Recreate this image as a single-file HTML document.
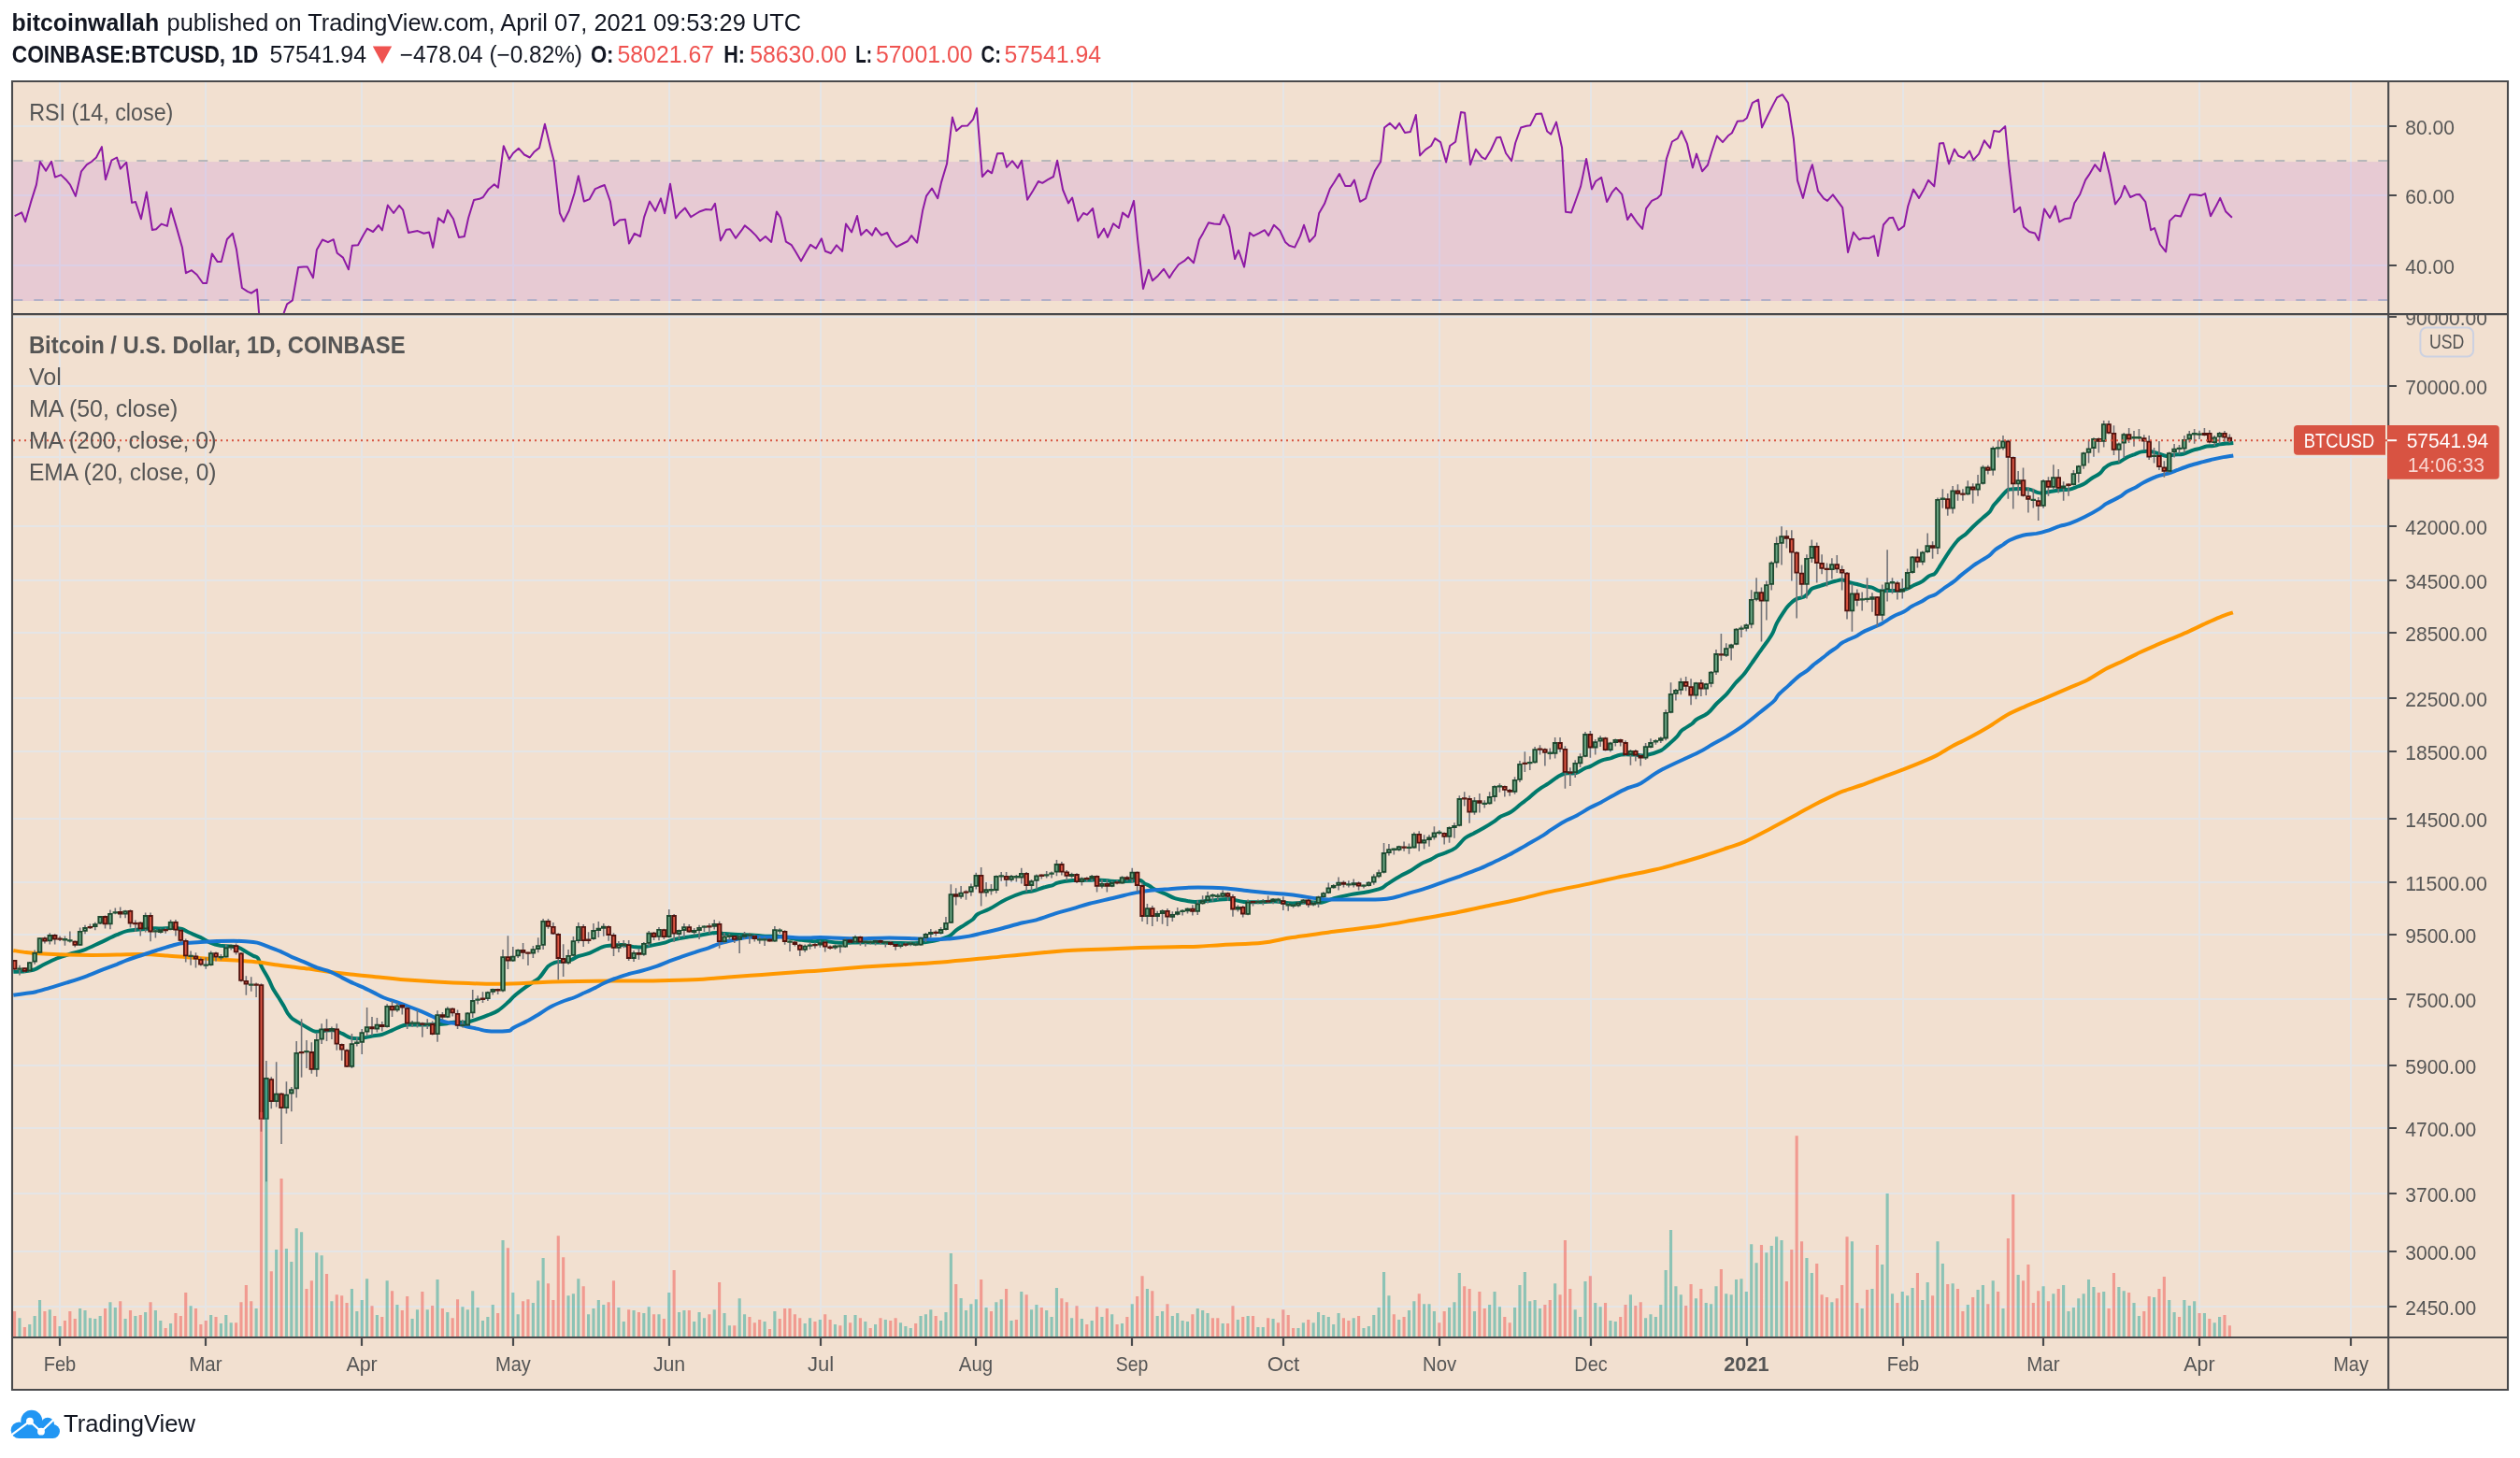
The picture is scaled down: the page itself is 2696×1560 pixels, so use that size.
<!DOCTYPE html>
<html><head><meta charset="utf-8"><title>BTCUSD chart</title>
<style>html,body{margin:0;padding:0;background:#fff;}body{width:2696px;height:1560px;overflow:hidden;font-family:"Liberation Sans",sans-serif;}</style>
</head><body>
<svg width="2696" height="1560" viewBox="0 0 2696 1560" style="display:block;will-change:transform">
<rect width="2696" height="1560" fill="#fff"/>
<rect x="13" y="87" width="2670" height="1400" fill="#f2e0d0"/>
<defs><clipPath id="cr"><rect x="14" y="88" width="2540.2" height="247.1"/></clipPath><clipPath id="cm"><rect x="14" y="337.1" width="2540.2" height="1092.9"/></clipPath><clipPath id="ca"><rect x="2556" y="337.1" width="126" height="1093"/></clipPath></defs>
<path d="M64.0 88V1430 M220.0 88V1430 M387.0 88V1430 M549.0 88V1430 M716.0 88V1430 M878.0 88V1430 M1044.0 88V1430 M1211.0 88V1430 M1373.0 88V1430 M1540.0 88V1430 M1702.0 88V1430 M1869.0 88V1430 M2036.0 88V1430 M2186.0 88V1430 M2353.0 88V1430 M2515.0 88V1430 M14 135H2554 M14 209H2554 M14 284H2554 M14 339.0H2554 M14 413.0H2554 M14 563.0H2554 M14 621.0H2554 M14 677.0H2554 M14 747.0H2554 M14 804.0H2554 M14 876.0H2554 M14 944.0H2554 M14 1000.0H2554 M14 1069.0H2554 M14 1140.0H2554 M14 1207.0H2554 M14 1277.0H2554 M14 1339.0H2554 M14 1398.0H2554 M14 489.0H2554" stroke="#e5e5e6" stroke-width="2" fill="none"/>
<g clip-path="url(#cr)">
<path d="M14.3 172.1H2554" stroke="#b7b7b9" stroke-width="2" stroke-dasharray="10 12" fill="none"/>
<rect x="14" y="173.1" width="2540" height="148.9" fill="rgba(170,80,225,0.15)"/>
<path d="M14.3 321H2554" stroke="#b2b0c8" stroke-width="2" stroke-dasharray="10 12" fill="none"/>
<path d="M15.7 231.2 L23.2 227.4 L27.1 237.2 L33.0 216.4 L38.9 197.6 L42.9 173.1 L49.1 182.8 L55.0 172.8 L58.9 189.6 L65.2 187.1 L70.5 192.2 L75.0 197.6 L80.9 209.9 L87.0 183.3 L92.9 176.2 L97.9 173.0 L103.0 168.5 L108.9 157.1 L112.9 192.1 L119.3 171.7 L125.0 168.5 L128.9 180.6 L135.2 173.7 L141.1 216.9 L145.0 216.0 L150.9 234.2 L156.8 205.6 L162.9 246.0 L167.0 245.3 L172.7 239.6 L178.9 241.9 L182.9 223.1 L189.3 244.9 L195.0 265.1 L198.9 292.2 L205.0 289.2 L210.7 294.0 L217.0 303.0 L221.1 303.1 L226.8 271.4 L232.7 280.1 L236.8 279.9 L242.9 256.0 L248.9 249.8 L252.9 266.4 L258.9 308.0 L264.8 311.9 L268.8 313.7 L275.0 309.6 L277.1 335.1 L279.1 350.3 L284.5 364.6 L289.8 353.9 L295.2 348.5 L300.5 343.1 L303.6 335.1 L307.1 325.3 L312.9 321.4 L319.1 286.0 L325.0 285.5 L328.9 285.6 L335.0 297.2 L338.9 267.2 L345.0 256.5 L350.9 259.2 L356.8 256.2 L360.7 270.8 L367.0 275.6 L372.9 288.3 L376.8 262.8 L383.0 262.2 L388.9 251.2 L392.9 244.6 L399.1 248.0 L405.0 241.0 L408.9 246.4 L414.8 219.6 L421.1 228.0 L427.1 219.9 L431.1 224.6 L437.0 248.9 L442.9 247.8 L446.8 247.1 L453.4 249.8 L459.1 248.5 L463.2 264.9 L468.9 233.3 L474.8 238.1 L478.9 224.9 L485.0 234.2 L490.9 253.9 L496.8 253.0 L501.1 233.3 L507.0 214.0 L512.9 212.8 L516.8 211.0 L522.7 202.4 L528.8 197.2 L532.9 200.8 L538.8 156.2 L544.8 170.3 L548.9 164.0 L554.8 158.7 L560.9 165.5 L566.8 168.5 L571.2 162.8 L577.0 158.1 L582.9 132.8 L588.8 157.4 L592.7 172.6 L598.9 228.0 L603.0 236.9 L608.8 225.3 L614.6 206.5 L618.8 188.3 L624.8 215.5 L630.7 213.1 L636.8 202.1 L640.9 200.3 L646.8 198.0 L652.9 215.5 L657.0 241.0 L662.9 235.6 L668.9 234.8 L673.0 260.5 L678.8 249.8 L685.0 253.0 L689.1 232.4 L695.0 215.5 L701.1 225.8 L707.0 212.4 L711.1 228.3 L717.0 196.7 L723.0 233.3 L727.0 228.0 L732.9 222.6 L739.1 232.1 L745.0 228.5 L748.9 226.2 L755.2 224.0 L761.1 224.4 L765.0 217.8 L770.9 257.4 L777.0 245.8 L781.1 245.3 L787.0 254.8 L793.2 246.7 L796.8 241.4 L802.9 246.2 L808.8 252.1 L813.2 257.8 L818.9 253.0 L825.2 258.9 L830.9 226.5 L835.0 232.8 L840.9 258.7 L846.8 262.2 L850.7 268.5 L857.0 279.2 L862.9 268.7 L867.1 261.9 L873.0 265.8 L878.9 255.3 L882.9 268.7 L888.9 271.0 L895.0 262.4 L901.1 268.7 L905.0 239.6 L911.1 248.5 L917.0 231.0 L921.1 251.5 L927.0 245.8 L933.0 251.7 L936.8 244.0 L943.0 251.7 L949.1 249.0 L953.2 257.4 L959.1 264.2 L965.2 261.0 L971.1 258.0 L975.2 252.1 L981.1 259.6 L987.1 225.3 L991.1 209.6 L997.0 201.5 L1003.2 212.2 L1007.1 194.9 L1013.0 175.3 L1018.9 125.6 L1023.2 140.1 L1029.1 134.8 L1035.0 134.6 L1041.1 127.6 L1045.0 115.8 L1050.9 189.0 L1056.8 182.4 L1061.1 185.3 L1067.0 164.2 L1072.9 163.9 L1077.0 178.9 L1083.0 172.2 L1088.9 179.8 L1093.0 171.7 L1099.1 213.7 L1105.0 204.2 L1110.9 194.0 L1115.2 195.8 L1121.1 192.2 L1127.0 189.0 L1131.1 171.7 L1137.1 203.0 L1143.0 217.4 L1147.1 211.5 L1153.2 236.5 L1159.1 228.0 L1163.0 229.8 L1169.1 223.0 L1175.0 254.2 L1181.1 244.6 L1185.0 253.9 L1191.1 239.2 L1197.0 244.0 L1201.1 227.6 L1207.1 232.4 L1213.0 214.9 L1217.1 256.5 L1223.0 308.9 L1228.9 288.7 L1233.0 300.3 L1238.9 294.9 L1245.0 287.8 L1251.1 297.2 L1255.0 291.0 L1260.9 283.0 L1267.0 279.2 L1271.1 275.3 L1277.0 281.2 L1283.0 256.5 L1287.1 249.4 L1293.0 238.3 L1298.9 239.6 L1305.0 240.1 L1309.1 229.8 L1315.2 242.8 L1321.1 277.1 L1325.0 267.8 L1331.1 285.6 L1337.0 249.0 L1341.1 252.4 L1347.1 249.4 L1353.0 246.2 L1357.1 252.1 L1362.9 240.8 L1369.1 246.4 L1375.0 258.9 L1379.3 262.8 L1385.2 264.6 L1391.1 252.4 L1395.0 240.8 L1400.9 258.7 L1407.0 252.1 L1411.1 228.3 L1417.0 218.1 L1423.0 201.7 L1427.1 195.5 L1432.9 186.0 L1439.1 198.9 L1445.0 198.9 L1448.9 192.6 L1455.0 215.8 L1461.1 212.4 L1467.0 193.1 L1470.9 182.8 L1477.1 173.0 L1481.1 136.5 L1487.0 131.9 L1492.9 137.8 L1497.1 131.9 L1503.0 141.9 L1508.9 141.0 L1514.8 123.0 L1519.1 166.4 L1525.0 160.1 L1531.1 156.0 L1535.2 148.1 L1541.1 152.1 L1547.1 173.5 L1551.2 156.0 L1557.1 151.7 L1563.0 119.9 L1567.1 120.8 L1573.0 176.2 L1578.9 159.8 L1585.2 168.1 L1589.1 170.3 L1595.0 160.5 L1601.2 147.2 L1605.2 146.7 L1611.1 164.0 L1617.1 172.1 L1621.2 153.0 L1627.1 136.5 L1633.2 134.8 L1637.1 134.2 L1643.2 122.1 L1649.1 121.4 L1655.2 140.5 L1659.3 143.7 L1665.0 130.6 L1671.1 158.3 L1675.0 226.7 L1681.1 227.4 L1687.0 211.0 L1691.1 199.4 L1697.1 169.9 L1703.0 202.4 L1707.1 194.0 L1713.2 189.9 L1719.1 216.0 L1725.0 205.3 L1728.9 200.8 L1735.2 207.8 L1741.1 235.1 L1745.0 228.9 L1751.1 237.8 L1757.1 244.9 L1761.1 223.1 L1767.1 214.9 L1773.0 212.2 L1777.0 208.3 L1782.9 169.9 L1788.9 151.5 L1794.8 148.1 L1798.9 140.1 L1805.0 153.9 L1810.9 179.4 L1815.0 164.6 L1821.1 183.3 L1827.0 176.5 L1831.1 162.8 L1836.8 145.5 L1843.0 152.1 L1848.8 145.3 L1852.9 142.2 L1858.8 129.8 L1865.0 129.2 L1868.9 126.2 L1874.8 110.1 L1881.1 106.5 L1885.0 136.4 L1891.2 123.5 L1897.1 111.9 L1901.1 104.4 L1907.0 101.2 L1913.0 110.1 L1918.9 148.5 L1923.0 193.1 L1928.9 211.9 L1935.0 186.9 L1938.9 176.2 L1945.0 204.4 L1951.1 212.4 L1955.0 214.9 L1960.9 208.3 L1967.1 216.7 L1971.2 222.2 L1977.0 269.9 L1982.9 248.5 L1989.1 256.5 L1993.0 254.8 L1999.3 255.1 L2005.0 252.4 L2009.1 273.9 L2015.0 240.5 L2021.1 233.3 L2025.2 232.8 L2031.1 246.2 L2037.1 241.9 L2041.2 220.8 L2047.0 202.6 L2053.0 211.9 L2059.1 201.2 L2063.0 192.8 L2069.3 199.4 L2075.0 153.5 L2079.1 153.1 L2085.0 175.3 L2090.9 159.6 L2095.2 166.7 L2101.1 169.0 L2107.0 161.5 L2111.2 171.2 L2117.1 164.6 L2122.9 150.3 L2129.1 158.3 L2133.2 139.9 L2139.1 141.0 L2145.2 135.1 L2149.3 177.1 L2155.0 227.1 L2161.1 221.7 L2165.0 242.8 L2171.1 248.1 L2177.0 249.4 L2181.1 257.1 L2187.1 223.5 L2193.0 233.0 L2198.9 220.5 L2203.2 237.4 L2209.1 234.2 L2215.0 233.3 L2219.3 217.2 L2225.2 208.0 L2231.1 192.6 L2235.0 186.9 L2241.2 176.2 L2247.0 183.3 L2251.1 163.3 L2257.1 187.8 L2263.0 218.5 L2268.9 210.5 L2273.0 198.9 L2279.1 211.0 L2285.0 208.3 L2288.9 208.0 L2295.2 215.8 L2301.1 246.2 L2305.0 244.0 L2310.9 261.5 L2317.1 269.4 L2321.2 236.4 L2327.0 230.6 L2333.0 231.5 L2337.1 221.7 L2343.0 208.3 L2348.9 208.3 L2355.0 209.2 L2359.1 207.1 L2365.0 231.2 L2371.1 219.9 L2375.2 211.9 L2381.1 226.2 L2387.9 232.8" stroke="#8e1aa4" stroke-width="2" fill="none" stroke-linejoin="round"/>
</g>
<g clip-path="url(#cm)">
<path d="M14.3 1039.8C16.4 1039.7 22.9 1039.7 26.8 1039.3C30.7 1038.8 34.5 1038.2 37.5 1037.1C40.5 1036.1 40.8 1035.1 44.6 1033.2C48.5 1031.3 55.7 1027.6 60.7 1025.5C65.8 1023.5 70.2 1022.2 75.0 1020.7C79.8 1019.2 83.9 1018.6 89.3 1016.6C94.6 1014.6 101.2 1011.3 107.1 1008.6C113.1 1005.8 120.2 1002.3 125.0 1000.2C129.8 998.1 131.8 997.0 135.7 996.1C139.6 995.1 144.0 995.1 148.2 994.6C152.4 994.2 156.8 993.6 160.7 993.4C164.6 993.2 167.3 993.5 171.4 993.4C175.6 993.3 181.8 992.8 185.7 992.9C189.6 992.9 192.0 993.2 194.6 993.9C197.3 994.7 198.5 996.0 201.8 997.5C205.1 999.0 210.4 1001.0 214.3 1002.9C218.2 1004.7 221.4 1007.1 225.0 1008.6C228.6 1010.1 232.1 1011.1 235.7 1011.8C239.3 1012.4 243.2 1012.1 246.4 1012.5C249.7 1012.9 252.4 1012.9 255.4 1013.9C258.3 1015.0 261.6 1017.4 264.3 1018.9C267.0 1020.4 269.5 1021.8 271.4 1022.9C273.4 1023.9 274.4 1023.1 275.9 1025.2C277.4 1027.3 278.4 1031.6 280.4 1035.4C282.3 1039.1 285.6 1044.1 287.5 1047.9C289.4 1051.6 290.2 1054.4 292.0 1057.7C293.8 1061.0 296.3 1064.4 298.2 1067.5C300.1 1070.6 301.9 1073.6 303.6 1076.4C305.2 1079.3 306.5 1082.2 308.0 1084.5C309.5 1086.7 310.3 1088.0 312.5 1089.8C314.7 1091.6 318.5 1093.4 321.4 1095.2C324.4 1097.0 327.7 1099.1 330.4 1100.5C333.0 1102.0 334.8 1103.4 337.5 1103.8C340.2 1104.1 343.2 1103.1 346.4 1102.9C349.7 1102.6 353.9 1101.8 357.1 1102.3C360.4 1102.8 363.1 1104.6 366.1 1105.9C369.0 1107.2 372.3 1109.5 375.0 1110.4C377.7 1111.2 379.8 1111.2 382.1 1111.2C384.5 1111.2 386.6 1110.8 389.3 1110.4C392.0 1109.9 394.9 1109.2 398.2 1108.6C401.5 1108.0 405.4 1107.8 408.9 1106.8C412.5 1105.7 415.8 1104.0 419.6 1102.3C423.5 1100.7 428.6 1097.9 432.1 1097.0C435.7 1096.0 436.8 1096.7 441.1 1096.6C445.4 1096.5 452.1 1096.6 457.9 1096.4C463.6 1096.2 471.2 1096.0 475.7 1095.5C480.2 1095.1 480.8 1094.0 484.6 1093.8C488.5 1093.5 494.5 1094.3 498.9 1093.8C503.4 1093.2 507.6 1091.5 511.4 1090.2C515.3 1088.9 518.6 1087.6 522.1 1086.1C525.7 1084.6 529.3 1083.5 532.9 1081.2C536.4 1079.0 540.6 1075.0 543.6 1072.3C546.5 1069.6 547.7 1067.8 550.7 1065.2C553.7 1062.6 557.9 1059.4 561.4 1056.8C565.0 1054.2 569.5 1051.5 572.1 1049.6C574.8 1047.8 575.1 1048.2 577.5 1045.5C579.9 1042.9 583.8 1036.5 586.4 1033.9C589.1 1031.3 591.2 1030.7 593.6 1029.8C596.0 1028.9 597.7 1029.1 600.7 1028.6C603.7 1028.1 608.5 1027.7 611.4 1026.8C614.4 1025.9 615.3 1024.4 618.6 1023.2C621.8 1022.0 626.6 1021.4 631.1 1019.6C635.5 1017.9 641.5 1014.2 645.4 1012.9C649.2 1011.5 651.0 1011.9 654.3 1011.6C657.6 1011.3 661.1 1010.9 665.0 1011.1C668.9 1011.3 673.9 1012.5 677.5 1012.9C681.1 1013.2 683.2 1013.6 686.4 1013.4C689.7 1013.2 693.0 1012.4 697.1 1011.6C701.3 1010.8 707.9 1009.5 711.4 1008.6C715.0 1007.6 715.0 1006.8 718.6 1005.9C722.1 1005.0 728.1 1003.9 732.9 1003.0C737.6 1002.2 743.0 1001.5 747.1 1000.9C751.3 1000.2 754.6 999.6 757.9 999.1C761.1 998.6 763.8 997.9 766.8 997.9C769.8 997.9 771.8 998.8 775.7 999.1C779.6 999.5 785.2 999.8 790.0 1000.0C794.8 1000.2 799.5 1000.1 804.3 1000.4C809.0 1000.7 813.8 1001.5 818.6 1001.8C823.3 1002.0 829.0 1001.5 832.9 1001.8C836.7 1002.0 838.2 1002.6 841.8 1003.2C845.4 1003.8 849.8 1004.7 854.3 1005.4C858.8 1006.0 864.1 1006.9 868.6 1007.1C873.0 1007.4 876.2 1006.5 881.1 1006.8C886.0 1007.1 890.6 1008.5 897.9 1008.8C905.1 1009.0 915.7 1008.2 924.6 1008.2C933.6 1008.2 942.5 1008.6 951.4 1008.8C960.4 1008.9 971.7 1009.4 978.2 1009.3C984.8 1009.1 986.3 1008.5 990.7 1007.9C995.2 1007.2 1000.8 1006.2 1005.0 1005.2C1009.2 1004.1 1012.7 1003.2 1015.7 1001.6C1018.7 1000.0 1020.2 997.4 1022.9 995.4C1025.5 993.4 1028.8 991.6 1031.8 989.6C1034.8 987.7 1038.3 985.7 1040.7 983.8C1043.1 981.8 1043.1 979.9 1046.1 978.0C1049.0 976.2 1053.5 975.1 1058.6 972.5C1063.6 969.9 1070.5 965.2 1076.4 962.3C1082.4 959.4 1089.5 956.7 1094.3 955.2C1099.0 953.7 1101.1 954.4 1105.0 953.4C1108.9 952.4 1113.9 950.3 1117.5 949.3C1121.1 948.2 1124.0 947.9 1126.4 947.1C1128.8 946.3 1128.2 945.3 1131.8 944.5C1135.4 943.6 1142.2 942.6 1147.9 942.1C1153.5 941.7 1161.2 941.9 1165.7 941.8C1170.2 941.7 1170.2 941.2 1174.6 941.4C1179.1 941.6 1186.5 942.8 1192.5 943.0C1198.5 943.2 1205.9 942.9 1210.4 942.7C1214.8 942.5 1216.9 941.3 1219.3 941.8C1221.7 942.2 1222.9 944.3 1224.6 945.4C1226.4 946.4 1228.2 947.0 1230.0 948.0C1231.8 949.1 1232.7 950.3 1235.4 951.6C1238.0 952.9 1242.5 954.5 1246.1 956.1C1249.6 957.6 1252.9 959.8 1256.8 961.1C1260.7 962.4 1265.7 963.1 1269.3 963.8C1272.9 964.4 1274.6 964.9 1278.2 965.0C1281.8 965.1 1285.7 964.6 1290.7 964.1C1295.8 963.7 1304.1 962.6 1308.6 962.3C1313.0 962.0 1313.8 961.9 1317.5 962.3C1321.2 962.8 1325.8 964.5 1330.7 965.0C1335.6 965.5 1341.1 965.2 1346.8 965.2C1352.4 965.1 1358.7 964.4 1364.6 964.6C1370.6 964.9 1376.5 966.3 1382.5 966.4C1388.5 966.5 1395.0 965.3 1400.4 965.2C1405.7 965.0 1410.2 966.2 1414.6 965.5C1419.1 964.9 1422.1 962.5 1427.1 961.1C1432.2 959.7 1439.0 958.3 1445.0 957.1C1451.0 956.0 1457.5 955.4 1462.9 954.3C1468.2 953.2 1473.6 952.1 1477.1 950.7C1480.7 949.3 1480.7 948.2 1484.3 945.9C1487.9 943.6 1494.4 939.3 1498.6 937.0C1502.7 934.6 1505.7 933.7 1509.3 931.6C1512.9 929.5 1516.4 926.5 1520.0 924.5C1523.6 922.5 1527.7 921.1 1530.7 919.6C1533.7 918.2 1535.2 916.8 1537.9 915.5C1540.5 914.3 1543.5 913.8 1546.8 912.3C1550.1 910.9 1554.1 909.6 1557.5 907.0C1560.9 904.4 1564.0 899.4 1567.3 896.8C1570.6 894.2 1573.7 893.3 1577.1 891.4C1580.6 889.6 1584.3 887.6 1587.9 885.5C1591.4 883.5 1595.6 880.9 1598.6 878.9C1601.5 876.9 1602.7 875.3 1605.7 873.6C1608.7 871.9 1612.9 871.0 1616.4 868.8C1620.0 866.5 1624.2 862.5 1627.1 860.2C1630.1 857.9 1631.9 856.8 1634.3 854.8C1636.7 852.9 1639.0 850.5 1641.4 848.6C1643.8 846.6 1646.2 844.9 1648.6 843.2C1651.0 841.6 1652.7 840.7 1655.7 838.8C1658.7 836.8 1663.3 833.1 1666.4 831.2C1669.6 829.4 1671.2 828.2 1674.5 827.5C1677.7 826.8 1682.6 828.0 1686.1 827.1C1689.5 826.3 1692.3 823.6 1695.0 822.3C1697.7 821.1 1699.2 821.1 1702.1 819.6C1705.1 818.2 1709.3 815.2 1712.9 813.8C1716.4 812.3 1720.0 812.1 1723.6 811.1C1727.1 810.0 1730.1 808.1 1734.3 807.5C1738.5 806.9 1744.4 807.4 1748.6 807.5C1752.7 807.6 1754.7 809.1 1759.3 808.4C1763.9 807.7 1771.5 805.6 1776.1 803.4C1780.7 801.2 1783.8 797.5 1786.8 795.0C1789.8 792.5 1791.8 790.6 1793.9 788.4C1796.0 786.2 1796.6 783.9 1799.3 781.6C1802.0 779.3 1807.3 776.5 1810.0 774.5C1812.7 772.4 1812.5 771.3 1815.4 769.5C1818.2 767.6 1823.4 766.0 1827.0 763.2C1830.5 760.4 1833.4 756.0 1836.8 752.5C1840.2 749.0 1844.2 745.9 1847.5 742.3C1850.8 738.8 1853.5 734.7 1856.4 731.2C1859.4 727.8 1862.4 725.4 1865.4 721.8C1868.3 718.1 1871.0 713.9 1874.3 709.3C1877.6 704.7 1882.0 698.3 1885.0 694.1C1888.0 689.9 1890.2 687.1 1892.1 684.3C1894.1 681.5 1895.1 680.1 1896.6 677.1C1898.1 674.2 1899.1 670.1 1901.1 666.4C1903.0 662.7 1906.1 657.9 1908.2 654.8C1910.3 651.7 1911.5 649.9 1913.6 647.7C1915.7 645.4 1918.0 642.9 1920.7 641.4C1923.4 639.9 1927.4 639.8 1929.6 638.8C1931.9 637.7 1932.6 636.7 1934.1 635.2C1935.6 633.7 1936.3 631.2 1938.6 629.8C1940.8 628.4 1944.5 627.8 1947.5 626.8C1950.5 625.8 1953.8 624.8 1956.4 623.9C1959.1 623.1 1961.0 622.4 1963.6 621.8C1966.1 621.2 1969.2 620.1 1971.6 620.4C1974.0 620.6 1975.3 622.3 1977.9 623.0C1980.4 623.8 1984.1 624.3 1986.8 625.0C1989.5 625.7 1991.2 626.5 1993.9 627.1C1996.6 627.7 2000.2 627.7 2002.9 628.6C2005.5 629.4 2007.0 631.6 2010.0 632.1C2013.0 632.7 2017.1 632.0 2020.7 632.0C2024.3 631.9 2028.2 632.3 2031.4 632.0C2034.7 631.6 2037.7 630.8 2040.4 629.8C2043.0 628.9 2044.8 627.5 2047.5 626.2C2050.2 625.0 2053.8 623.8 2056.4 622.1C2059.1 620.5 2061.3 617.8 2063.6 616.4C2065.8 615.0 2068.0 615.2 2069.8 613.8C2071.6 612.3 2071.6 611.5 2074.3 607.5C2076.9 603.5 2082.3 594.6 2085.7 589.6C2089.1 584.7 2091.7 581.2 2094.6 578.0C2097.6 574.9 2100.6 573.6 2103.6 570.9C2106.5 568.2 2109.5 564.8 2112.5 562.0C2115.5 559.1 2118.8 556.3 2121.4 553.9C2124.1 551.5 2126.6 549.9 2128.6 547.7C2130.5 545.4 2131.2 542.9 2133.0 540.5C2134.8 538.2 2137.1 535.9 2139.3 533.4C2141.5 530.9 2144.6 527.0 2146.4 525.4C2148.2 523.7 2147.6 524.0 2150.0 523.6C2152.4 523.2 2157.1 523.0 2160.7 523.0C2164.3 523.0 2168.2 522.9 2171.4 523.6C2174.7 524.3 2177.7 526.5 2180.4 527.1C2183.0 527.7 2184.8 527.4 2187.5 527.1C2190.2 526.8 2193.2 525.9 2196.4 525.4C2199.7 524.9 2204.2 524.4 2207.1 524.1C2210.1 523.8 2211.6 524.2 2214.3 523.6C2217.0 522.9 2220.5 521.4 2223.2 520.4C2225.9 519.3 2228.0 518.7 2230.4 517.3C2232.7 515.9 2234.8 513.8 2237.5 512.0C2240.2 510.2 2244.0 508.5 2246.4 506.6C2248.8 504.7 2249.7 502.1 2251.8 500.4C2253.9 498.6 2256.2 497.3 2258.9 496.2C2261.6 495.2 2265.2 495.2 2267.9 494.1C2270.5 493.0 2272.3 491.0 2275.0 489.6C2277.7 488.3 2281.2 487.1 2283.9 486.1C2286.6 485.0 2288.4 483.9 2291.1 483.4C2293.8 482.9 2297.0 482.6 2300.0 482.9C2303.0 483.2 2306.0 484.3 2308.9 485.2C2311.9 486.0 2314.9 487.6 2317.9 487.9C2320.8 488.1 2323.8 486.8 2326.8 486.4C2329.8 486.1 2332.4 486.5 2335.7 485.7C2339.0 484.9 2343.5 482.6 2346.4 481.6C2349.4 480.6 2351.2 480.5 2353.6 479.8C2356.0 479.1 2358.3 477.9 2360.7 477.5C2363.1 477.1 2365.5 477.5 2367.9 477.1C2370.2 476.8 2372.6 475.8 2375.0 475.4C2377.4 474.9 2379.8 474.7 2382.1 474.5C2384.5 474.3 2388.1 474.2 2389.3 474.1" stroke="#00796b" stroke-width="4" fill="none" stroke-linejoin="round"/>
<path d="M14.3 1017.0C17.0 1017.4 25.0 1018.7 30.4 1019.3C35.7 1019.9 39.6 1020.2 46.4 1020.5C53.3 1020.9 62.8 1021.2 71.4 1021.4C80.1 1021.7 89.3 1021.9 98.2 1022.0C107.1 1022.0 116.1 1021.8 125.0 1021.6C133.9 1021.5 142.9 1020.9 151.8 1021.1C160.7 1021.2 169.6 1021.9 178.6 1022.5C187.5 1023.1 196.4 1024.0 205.4 1024.6C214.3 1025.3 223.2 1025.9 232.1 1026.4C241.1 1027.0 251.5 1027.4 258.9 1027.9C266.4 1028.4 270.8 1028.7 276.8 1029.5C282.7 1030.2 288.7 1031.5 294.6 1032.3C300.6 1033.2 306.5 1033.8 312.5 1034.5C318.5 1035.2 324.4 1035.8 330.4 1036.6C336.3 1037.4 340.8 1038.3 348.2 1039.3C355.7 1040.3 366.1 1041.5 375.0 1042.5C383.9 1043.5 392.9 1044.3 401.8 1045.2C410.7 1046.1 417.7 1047.0 428.6 1047.9C439.4 1048.7 456.0 1049.7 466.8 1050.4C477.6 1051.0 484.6 1051.4 493.6 1051.8C502.5 1052.2 512.9 1052.5 520.4 1052.7C527.8 1052.8 530.8 1052.8 538.2 1052.7C545.7 1052.5 556.1 1052.1 565.0 1051.8C573.9 1051.4 582.9 1050.8 591.8 1050.5C600.7 1050.2 608.2 1050.1 618.6 1050.0C629.0 1049.9 640.9 1049.7 654.3 1049.6C667.7 1049.6 687.0 1049.6 698.9 1049.5C710.8 1049.3 716.8 1049.0 725.7 1048.8C734.6 1048.5 743.6 1048.2 752.5 1047.7C761.4 1047.1 768.9 1046.3 779.3 1045.5C789.7 1044.7 803.1 1043.8 815.0 1042.9C826.9 1042.0 840.3 1040.9 850.7 1040.2C861.1 1039.4 865.2 1039.3 877.5 1038.4C889.8 1037.5 909.3 1035.7 924.6 1034.6C939.9 1033.6 954.4 1032.9 969.3 1032.0C984.2 1031.0 999.0 1030.1 1013.9 1028.9C1028.8 1027.7 1043.7 1026.2 1058.6 1024.8C1073.5 1023.4 1088.3 1021.7 1103.2 1020.4C1118.1 1019.0 1134.5 1017.6 1147.9 1016.8C1161.2 1016.0 1171.7 1015.8 1183.6 1015.4C1195.5 1014.9 1207.4 1014.5 1219.3 1014.1C1231.2 1013.8 1244.6 1013.5 1255.0 1013.2C1265.4 1013.0 1272.9 1013.1 1281.8 1012.7C1290.7 1012.3 1297.1 1011.5 1308.6 1010.9C1320.0 1010.2 1338.0 1010.1 1350.4 1008.8C1362.7 1007.4 1369.7 1005.0 1382.5 1003.0C1395.3 1001.0 1411.4 998.9 1427.1 996.8C1442.9 994.7 1462.3 992.7 1477.1 990.5C1492.0 988.4 1503.9 985.9 1516.4 983.8C1528.9 981.6 1540.2 979.8 1552.1 977.5C1564.0 975.2 1576.0 972.5 1587.9 970.0C1599.8 967.5 1611.7 965.2 1623.6 962.5C1635.5 959.8 1646.5 956.8 1659.3 953.9C1672.0 951.1 1688.6 948.0 1700.0 945.6C1711.4 943.1 1716.2 941.9 1727.8 939.4C1739.4 937.0 1758.3 933.4 1769.4 930.8C1780.6 928.3 1785.2 926.8 1794.4 924.2C1803.7 921.5 1816.2 917.8 1825.0 915.0C1833.8 912.2 1840.3 909.9 1847.2 907.5C1854.2 905.1 1858.8 904.1 1866.7 900.6C1874.5 897.0 1885.2 891.2 1894.4 886.4C1903.7 881.5 1914.8 875.4 1922.2 871.4C1929.6 867.4 1933.3 865.1 1938.9 862.2C1944.4 859.3 1950.0 856.5 1955.6 853.9C1961.1 851.2 1966.2 848.7 1972.2 846.4C1978.2 844.1 1984.7 842.5 1991.7 840.0C1998.6 837.5 2006.5 834.4 2013.9 831.7C2021.3 828.9 2028.7 826.2 2036.1 823.3C2043.5 820.5 2052.3 817.0 2058.3 814.4C2064.4 811.9 2067.1 810.7 2072.2 808.1C2077.3 805.4 2082.9 801.6 2088.9 798.3C2094.9 795.1 2101.9 792.1 2108.3 788.6C2114.8 785.1 2121.3 781.4 2127.8 777.5C2134.3 773.6 2140.7 768.6 2147.2 765.0C2153.7 761.4 2160.2 758.7 2166.7 755.8C2173.1 753.0 2178.2 751.1 2186.1 747.8C2194.0 744.4 2206.0 739.2 2213.9 735.8C2221.8 732.5 2226.9 730.8 2233.3 727.5C2239.8 724.2 2246.3 719.3 2252.8 715.8C2259.3 712.4 2266.2 709.6 2272.2 706.7C2278.2 703.8 2283.3 701.0 2288.9 698.3C2294.4 695.7 2300.0 693.2 2305.6 690.8C2311.1 688.4 2316.2 686.4 2322.2 683.9C2328.2 681.3 2335.2 678.5 2341.7 675.6C2348.1 672.6 2355.6 668.9 2361.1 666.4C2366.7 663.8 2370.4 662.1 2375.0 660.3C2379.6 658.4 2386.6 656.1 2388.9 655.3" stroke="#ff9800" stroke-width="4" fill="none" stroke-linejoin="round"/>
<path d="M14.3 1064.8C16.4 1064.5 22.8 1063.6 26.8 1063.0C30.8 1062.4 33.9 1062.3 38.4 1061.2C42.9 1060.2 48.1 1058.4 53.6 1056.8C59.1 1055.1 64.9 1053.5 71.4 1051.4C78.0 1049.3 86.3 1046.7 92.9 1044.3C99.4 1041.9 105.4 1039.2 110.7 1037.1C116.1 1035.1 120.8 1033.4 125.0 1031.8C129.2 1030.1 131.2 1029.0 135.7 1027.3C140.2 1025.7 146.1 1023.8 151.8 1022.0C157.4 1020.1 164.0 1018.0 169.6 1016.2C175.3 1014.5 181.2 1012.4 185.7 1011.2C190.2 1010.1 191.7 1009.6 196.4 1009.1C201.2 1008.6 208.3 1008.4 214.3 1008.0C220.2 1007.7 226.2 1007.4 232.1 1007.1C238.1 1006.9 244.9 1006.8 250.0 1006.8C255.1 1006.8 258.3 1007.0 262.5 1007.3C266.7 1007.6 270.5 1007.5 275.0 1008.6C279.5 1009.7 284.8 1012.2 289.3 1013.9C293.8 1015.6 297.9 1017.1 301.8 1018.8C305.7 1020.4 308.6 1022.4 312.5 1024.1C316.4 1025.8 320.5 1027.2 325.0 1029.1C329.5 1031.0 334.5 1033.6 339.3 1035.4C344.0 1037.1 349.1 1038.0 353.6 1039.8C358.0 1041.6 361.9 1044.0 366.1 1046.1C370.2 1048.2 374.7 1050.5 378.6 1052.3C382.4 1054.1 385.7 1055.1 389.3 1056.8C392.9 1058.4 396.4 1060.4 400.0 1062.1C403.6 1063.9 406.5 1065.8 410.7 1067.5C414.9 1069.2 420.5 1070.7 425.0 1072.3C429.5 1073.9 433.2 1075.3 437.5 1077.0C441.8 1078.6 446.7 1080.5 450.7 1082.1C454.7 1083.8 458.2 1085.4 461.4 1087.0C464.7 1088.5 467.4 1090.2 470.4 1091.4C473.3 1092.6 476.3 1093.5 479.3 1094.1C482.3 1094.7 484.9 1094.5 488.2 1095.2C491.5 1095.9 495.1 1097.3 498.9 1098.2C502.8 1099.2 507.9 1100.1 511.4 1100.9C515.0 1101.7 516.8 1102.6 520.4 1103.0C523.9 1103.5 528.7 1103.6 532.9 1103.6C537.0 1103.5 542.7 1103.3 545.4 1102.7C548.0 1102.1 545.7 1101.8 548.9 1100.0C552.2 1098.2 560.5 1094.3 565.0 1092.0C569.5 1089.6 571.8 1088.1 575.7 1085.7C579.6 1083.3 584.0 1080.0 588.2 1077.7C592.4 1075.4 596.3 1073.8 600.7 1072.0C605.2 1070.2 610.8 1068.6 615.0 1067.0C619.2 1065.3 622.1 1063.6 625.7 1062.0C629.3 1060.3 633.2 1058.8 636.4 1057.1C639.7 1055.5 641.8 1054.0 645.4 1052.3C648.9 1050.6 653.4 1048.6 657.9 1047.0C662.3 1045.3 667.4 1043.7 672.1 1042.3C676.9 1041.0 681.4 1040.1 686.4 1038.8C691.5 1037.4 697.7 1035.6 702.5 1033.9C707.3 1032.3 710.5 1030.7 715.0 1028.9C719.5 1027.2 724.5 1025.3 729.3 1023.6C734.0 1021.9 738.8 1020.3 743.6 1018.8C748.3 1017.2 753.4 1015.9 757.9 1014.3C762.3 1012.7 765.9 1010.7 770.4 1009.3C774.8 1007.9 779.6 1006.8 784.6 1005.7C789.7 1004.6 795.7 1003.2 800.7 1002.7C805.8 1002.2 810.2 1002.6 815.0 1002.7C819.8 1002.7 825.4 1003.1 829.3 1003.0C833.2 1003.0 834.6 1002.3 838.2 1002.3C841.8 1002.4 846.3 1003.0 850.7 1003.2C855.2 1003.4 860.5 1003.6 865.0 1003.6C869.5 1003.5 872.0 1003.0 877.5 1003.0C883.0 1003.1 891.5 1003.5 897.9 1003.8C904.2 1004.0 906.8 1004.3 915.7 1004.3C924.6 1004.2 941.0 1003.4 951.4 1003.4C961.8 1003.4 970.8 1004.0 978.2 1004.3C985.7 1004.6 990.1 1005.1 996.1 1005.2C1002.0 1005.2 1007.1 1005.2 1013.9 1004.6C1020.8 1004.0 1031.2 1002.6 1037.1 1001.6C1043.1 1000.6 1044.6 999.8 1049.6 998.6C1054.7 997.4 1060.1 996.3 1067.5 994.5C1074.9 992.6 1087.4 989.0 1094.3 987.3C1101.1 985.6 1102.6 986.0 1108.6 984.3C1114.5 982.6 1123.5 979.2 1130.0 977.1C1136.5 975.1 1141.9 973.9 1147.9 972.1C1153.8 970.4 1158.3 968.7 1165.7 966.8C1173.2 964.9 1185.1 962.3 1192.5 960.5C1199.9 958.8 1204.4 957.4 1210.4 956.1C1216.3 954.8 1222.3 953.6 1228.2 952.9C1234.2 952.1 1240.1 952.1 1246.1 951.6C1252.0 951.2 1258.0 950.5 1263.9 950.2C1269.9 949.8 1274.3 949.5 1281.8 949.5C1289.2 949.5 1299.2 949.5 1308.6 950.2C1317.9 950.8 1330.0 952.6 1337.9 953.4C1345.7 954.2 1349.8 954.6 1355.7 955.2C1361.7 955.7 1367.6 956.0 1373.6 956.6C1379.5 957.2 1385.5 957.9 1391.4 958.8C1397.4 959.6 1403.3 960.8 1409.3 961.4C1415.2 962.1 1419.7 962.3 1427.1 962.5C1434.6 962.7 1445.6 962.5 1453.9 962.5C1462.3 962.5 1471.2 962.6 1477.1 962.3C1483.1 962.0 1484.6 961.8 1489.6 960.7C1494.7 959.6 1501.5 957.4 1507.5 955.7C1513.5 954.0 1519.4 952.3 1525.4 950.4C1531.3 948.4 1537.3 946.2 1543.2 944.1C1549.2 942.0 1556.6 939.5 1561.1 937.9C1565.5 936.2 1566.1 935.8 1570.0 934.3C1573.9 932.8 1579.5 930.9 1584.3 928.9C1589.0 926.9 1593.5 924.7 1598.6 922.3C1603.6 919.9 1609.0 917.6 1614.6 914.6C1620.3 911.7 1626.5 907.9 1632.5 904.5C1638.5 901.0 1645.9 896.9 1650.4 894.1C1654.8 891.3 1655.4 890.4 1659.3 887.9C1663.2 885.3 1669.1 881.4 1673.6 878.9C1678.0 876.5 1681.6 875.4 1686.1 873.0C1690.5 870.7 1695.9 867.1 1700.4 864.6C1704.8 862.2 1708.4 860.8 1712.9 858.4C1717.3 856.0 1722.4 852.9 1727.1 850.4C1731.9 847.8 1736.7 845.3 1741.4 843.2C1746.2 841.1 1749.6 841.1 1755.7 837.9C1761.8 834.6 1767.6 829.0 1777.9 823.6C1788.1 818.1 1808.2 809.5 1817.1 805.0C1826.1 800.5 1826.4 799.6 1831.4 796.8C1836.5 793.9 1841.8 791.3 1847.5 787.9C1853.2 784.4 1859.4 780.6 1865.4 776.2C1871.3 771.9 1877.9 766.3 1883.2 762.0C1888.6 757.6 1894.2 753.5 1897.5 750.4C1900.8 747.2 1900.2 746.0 1902.9 743.2C1905.5 740.4 1910.0 736.7 1913.6 733.4C1917.1 730.1 1921.0 726.2 1924.3 723.6C1927.6 721.0 1930.5 719.8 1933.2 717.7C1935.9 715.6 1937.4 713.5 1940.4 711.1C1943.3 708.6 1948.4 705.1 1951.1 703.0C1953.8 701.0 1954.0 700.4 1956.4 698.6C1958.8 696.8 1962.8 694.2 1965.4 692.3C1967.9 690.4 1968.0 689.3 1971.6 687.3C1975.2 685.3 1983.1 682.1 1986.8 680.2C1990.5 678.3 1990.5 677.6 1993.9 675.9C1997.4 674.2 2004.0 671.5 2007.3 670.0C2010.6 668.5 2010.4 668.8 2013.6 667.0C2016.7 665.2 2022.2 661.4 2026.1 659.3C2029.9 657.2 2033.5 656.3 2036.8 654.5C2040.1 652.7 2042.4 650.4 2045.7 648.6C2049.0 646.7 2053.5 644.9 2056.4 643.2C2059.4 641.6 2061.2 639.9 2063.6 638.8C2066.0 637.6 2068.0 637.6 2070.7 636.1C2073.4 634.5 2076.4 631.8 2079.6 629.5C2082.9 627.1 2087.4 624.4 2090.4 622.1C2093.3 619.9 2094.7 618.2 2097.5 615.9C2100.3 613.6 2104.3 610.5 2107.1 608.4C2109.9 606.2 2110.7 605.4 2114.3 603.0C2117.9 600.7 2125.3 596.5 2128.6 594.1C2131.8 591.7 2131.5 590.6 2133.9 588.8C2136.3 586.9 2140.2 584.6 2142.9 582.9C2145.5 581.1 2146.4 579.7 2150.0 578.0C2153.6 576.3 2159.5 573.9 2164.3 572.7C2169.0 571.5 2174.4 571.6 2178.6 570.9C2182.7 570.1 2185.1 569.6 2189.3 568.2C2193.5 566.9 2199.4 564.2 2203.6 562.9C2207.7 561.5 2209.8 561.8 2214.3 560.2C2218.8 558.5 2225.0 555.7 2230.4 553.0C2235.7 550.4 2242.6 546.5 2246.4 544.1C2250.3 541.7 2250.0 540.8 2253.6 538.8C2257.1 536.7 2264.3 533.7 2267.9 531.6C2271.4 529.5 2272.0 528.0 2275.0 526.2C2278.0 524.5 2282.7 522.5 2285.7 520.9C2288.7 519.3 2289.3 518.3 2292.9 516.4C2296.4 514.6 2302.7 511.5 2307.1 509.8C2311.6 508.2 2315.8 507.8 2319.6 506.6C2323.5 505.4 2326.5 504.1 2330.4 502.7C2334.2 501.2 2338.4 499.5 2342.9 498.0C2347.3 496.6 2353.0 495.2 2357.1 494.1C2361.3 493.0 2364.3 492.3 2367.9 491.4C2371.4 490.6 2375.0 489.8 2378.6 489.1C2382.1 488.5 2387.5 487.8 2389.3 487.5" stroke="#1976d2" stroke-width="4" fill="none" stroke-linejoin="round"/>
<path d="M15.60 1027.3V1038.0M20.99 1032.7V1043.4M26.37 1035.4V1040.7M31.76 1029.1V1039.8M37.14 1016.6V1031.8M42.53 1003.2V1020.2M47.91 1002.3V1009.5M53.30 998.2V1010.4M58.69 999.3V1010.4M64.07 1001.4V1007.1M69.46 1001.4V1011.8M74.84 996.4V1008.6M80.23 1006.4V1013.6M85.62 992.5V1011.8M91.00 989.8V999.3M96.39 988.6V993.9M101.77 986.8V995.2M107.16 980.0V988.9M112.54 979.6V993.4M117.93 973.4V994.3M123.32 971.4V978.2M128.70 970.5V982.3M134.09 973.8V982.3M139.47 973.2V992.5M144.86 984.5V997.0M150.24 986.2V1001.4M155.63 976.4V997.5M161.02 976.4V1007.3M166.40 993.9V1003.6M171.79 993.4V998.8M177.17 992.5V998.8M182.56 984.1V995.2M187.95 984.1V1001.4M193.33 994.3V1008.6M198.72 1004.6V1029.6M204.10 1017.5V1032.7M209.49 1019.3V1035.4M214.87 1024.6V1033.6M220.26 1024.6V1036.8M225.65 1017.5V1033.6M231.03 1018.4V1028.6M236.42 1021.1V1027.3M241.80 1010.4V1024.6M247.19 1010.4V1016.6M252.58 1009.5V1021.6M257.96 1018.9V1050.5M263.35 1044.3V1064.8M268.73 1045.2V1060.7M274.12 1051.4V1067.0M279.50 1052.3V1210.7M284.89 1135.0V1264.3M290.28 1152.3V1186.2M295.66 1136.2V1184.5M301.05 1169.3V1224.1M306.43 1157.3V1191.6M311.82 1163.0V1189.3M317.20 1113.9V1174.6M322.59 1090.2V1152.7M327.98 1113.0V1142.9M333.36 1115.2V1148.8M338.75 1105.5V1152.0M344.13 1095.2V1117.0M349.52 1090.2V1113.9M354.91 1098.4V1112.1M360.29 1095.2V1123.8M365.68 1116.6V1134.8M371.06 1122.5V1142.1M376.45 1105.9V1142.9M381.83 1110.0V1119.6M387.22 1101.1V1127.9M392.61 1077.9V1108.6M397.99 1088.0V1107.7M403.38 1088.9V1104.5M408.76 1092.9V1103.6M414.15 1074.3V1099.6M419.54 1071.1V1088.0M424.92 1072.9V1082.7M430.31 1074.6V1085.4M435.69 1077.3V1101.1M441.08 1092.0V1099.1M446.46 1080.7V1099.6M451.85 1093.8V1109.8M457.24 1090.2V1100.9M462.62 1092.5V1107.5M468.01 1081.2V1114.8M473.39 1083.0V1091.1M478.78 1077.3V1089.3M484.16 1078.2V1087.5M489.55 1080.4V1100.9M494.94 1091.1V1099.6M500.32 1083.0V1097.9M505.71 1058.9V1088.9M511.09 1065.2V1074.6M516.48 1061.2V1072.9M521.87 1060.7V1070.9M527.25 1057.7V1064.6M532.64 1057.7V1063.9M538.02 1016.1V1061.6M543.41 1001.2V1037.1M548.79 1013.0V1028.9M554.18 1015.5V1025.0M559.57 1008.9V1026.2M564.95 1018.8V1033.0M570.34 1012.1V1025.0M575.72 1003.2V1019.3M581.11 983.0V1016.1M586.49 983.0V993.8M591.88 987.1V1000.0M597.27 998.2V1048.2M602.65 1010.2V1045.0M608.04 1016.1V1032.1M613.42 1002.1V1023.2M618.81 987.1V1009.3M624.20 988.9V1012.9M629.58 997.3V1009.8M634.97 988.0V1005.7M640.35 986.1V1003.0M645.74 988.0V1001.8M651.12 990.2V1006.8M656.51 998.2V1022.9M661.90 1007.1V1019.1M667.28 1005.9V1014.3M672.67 1005.9V1028.0M678.05 1017.0V1028.9M683.44 1015.2V1026.8M688.82 1008.0V1022.7M694.21 996.1V1012.5M699.60 997.0V1005.9M704.98 992.0V1006.2M710.37 993.8V1005.0M715.75 972.9V1003.6M721.14 978.0V1007.7M726.53 994.6V1005.0M731.91 988.0V1002.7M737.30 988.9V997.9M742.68 992.9V1000.4M748.07 989.8V1005.0M753.45 990.2V997.0M758.84 987.9V998.8M764.23 983.9V994.6M769.61 985.7V1014.8M775.00 997.9V1009.3M780.38 999.1V1005.7M785.77 1000.9V1008.9M791.16 1000.4V1020.0M796.54 997.0V1004.5M801.93 997.9V1009.8M807.31 1000.0V1007.5M812.70 1002.3V1009.8M818.08 1002.7V1012.1M823.47 1004.1V1007.7M828.86 991.1V1007.7M834.24 993.2V999.1M839.63 995.2V1010.7M845.01 1006.2V1017.9M850.40 1007.1V1012.5M855.78 1009.8V1022.9M861.17 1010.4V1018.8M866.56 1008.0V1015.7M871.94 1008.4V1014.8M877.33 1006.2V1013.8M882.71 1006.4V1018.6M888.10 1011.4V1015.9M893.49 1010.5V1015.9M898.87 1010.5V1019.5M904.26 1004.3V1014.1M909.64 1004.6V1009.6M915.03 1000.7V1009.3M920.41 1001.6V1011.8M925.80 1006.1V1012.7M931.19 1006.1V1010.5M936.57 1005.2V1011.4M941.96 1005.2V1010.5M947.34 1007.0V1013.6M952.73 1007.0V1011.4M958.12 1009.6V1016.8M963.50 1009.6V1014.5M968.89 1008.4V1012.7M974.27 1007.9V1012.3M979.66 1008.8V1012.3M985.04 1002.5V1011.8M990.43 998.0V1007.9M995.82 993.9V1002.9M1001.20 995.4V1001.6M1006.59 992.1V999.8M1011.97 981.1V995.4M1017.36 946.2V987.9M1022.74 950.2V968.6M1028.13 948.0V961.8M1033.52 952.5V962.7M1038.90 945.4V958.8M1044.29 933.8V951.6M1049.67 928.0V969.5M1055.06 944.1V959.6M1060.45 945.9V957.5M1065.83 936.4V955.7M1071.22 932.9V942.7M1076.60 932.9V948.6M1081.99 936.1V943.6M1087.37 936.1V943.6M1092.76 928.8V945.4M1098.15 932.9V954.3M1103.53 940.9V953.4M1108.92 935.5V951.6M1114.30 935.5V940.4M1119.69 932.0V939.6M1125.07 932.5V939.6M1130.46 920.0V937.3M1135.85 922.1V936.4M1141.23 931.1V942.1M1146.62 933.8V939.6M1152.00 934.3V945.0M1157.39 938.6V947.5M1162.78 938.2V943.6M1168.16 936.1V942.7M1173.55 936.4V954.6M1178.93 941.2V950.4M1184.32 941.2V954.6M1189.70 942.7V949.3M1195.09 941.8V946.2M1200.48 937.3V945.7M1205.86 937.3V942.7M1211.25 928.8V943.9M1216.63 932.5V954.3M1222.02 944.5V986.1M1227.40 967.1V989.1M1232.79 968.9V990.9M1238.18 974.8V986.1M1243.56 973.0V988.8M1248.95 972.1V990.9M1254.33 975.2V986.1M1259.72 970.9V979.6M1265.11 973.0V979.6M1270.49 971.2V977.5M1275.88 968.2V979.6M1281.26 963.2V978.9M1286.65 958.2V967.7M1292.03 953.9V966.4M1297.42 956.1V964.6M1302.81 956.1V962.9M1308.19 952.5V960.0M1313.58 954.6V964.1M1318.96 957.0V980.7M1324.35 968.2V975.4M1329.74 969.1V981.6M1335.12 962.5V979.3M1340.51 963.8V969.6M1345.89 962.5V967.3M1351.28 962.0V968.6M1356.66 958.4V966.4M1362.05 961.1V967.3M1367.44 960.7V966.4M1372.82 959.3V973.9M1378.21 966.1V974.8M1383.59 967.3V971.4M1388.98 964.6V970.4M1394.36 962.0V967.3M1399.75 962.0V970.9M1405.14 964.6V969.6M1410.52 958.4V970.9M1415.91 954.3V960.7M1421.29 944.5V956.2M1426.68 945.9V950.7M1432.07 938.4V952.5M1437.45 942.3V949.5M1442.84 942.3V949.5M1448.22 940.5V949.5M1453.61 943.2V952.5M1458.99 946.4V950.4M1464.38 942.9V948.6M1469.77 935.2V946.8M1475.15 930.4V939.6M1480.54 902.1V934.6M1485.92 903.0V915.5M1491.31 907.5V914.6M1496.69 904.8V910.7M1502.08 900.4V910.7M1507.47 902.5V913.8M1512.85 890.5V907.5M1518.24 889.3V910.7M1523.62 893.2V908.4M1529.01 893.2V905.7M1534.40 884.3V898.6M1539.78 888.2V893.2M1545.17 890.5V903.6M1550.55 884.3V901.8M1555.94 880.2V896.8M1561.32 851.2V884.3M1566.71 847.3V862.5M1572.10 851.2V880.7M1577.48 853.0V871.8M1582.87 849.1V869.6M1588.25 856.2V864.6M1593.64 847.3V860.7M1599.03 840.2V857.5M1604.41 838.2V847.7M1609.80 840.5V852.5M1615.18 844.1V851.8M1620.57 831.2V849.8M1625.95 814.1V837.0M1631.34 804.3V825.9M1636.73 809.3V823.9M1642.11 799.1V816.8M1647.50 797.3V807.5M1652.88 800.4V819.6M1658.27 800.4V812.5M1663.65 789.1V811.6M1669.04 789.1V804.8M1674.43 798.2V843.8M1679.81 821.2V840.9M1685.20 813.2V832.0M1690.58 806.2V820.9M1695.97 783.0V810.2M1701.36 782.1V810.7M1706.74 791.1V807.5M1712.13 787.3V798.9M1717.51 788.4V803.4M1722.90 793.8V804.5M1728.28 790.5V798.6M1733.67 790.5V798.6M1739.06 792.3V808.9M1744.44 802.1V818.8M1749.83 802.1V814.6M1755.21 806.6V819.6M1760.60 795.0V812.9M1765.98 790.2V800.4M1771.37 791.1V796.8M1776.76 788.2V795.0M1782.14 759.3V792.3M1787.53 730.2V763.2M1792.91 737.0V749.5M1798.30 725.4V743.2M1803.69 724.1V739.3M1809.07 726.2V754.3M1814.46 729.8V748.2M1819.84 727.1V745.0M1825.23 730.7V744.1M1830.61 717.9V735.2M1836.00 695.0V722.1M1841.39 678.0V707.1M1846.77 688.2V703.0M1852.16 688.8V706.6M1857.54 672.1V690.2M1862.93 669.5V682.1M1868.32 667.3V675.4M1873.70 631.2V672.3M1879.09 618.2V643.2M1884.47 628.4V686.4M1889.86 621.4V663.4M1895.24 600.4V631.6M1900.63 574.5V607.5M1906.02 563.2V604.5M1911.40 567.3V586.6M1916.79 567.3V621.4M1922.17 590.0V661.6M1927.56 604.5V639.6M1932.94 593.2V640.5M1938.33 577.5V602.1M1943.72 580.4V623.6M1949.10 593.2V614.3M1954.49 602.5V627.5M1959.87 597.3V619.6M1965.26 594.1V612.9M1970.65 605.2V631.6M1976.03 612.0V662.5M1981.42 624.8V675.7M1986.80 630.4V648.6M1992.19 633.4V653.6M1997.57 618.2V644.6M2002.96 634.3V654.8M2008.35 637.9V670.5M2013.73 625.4V664.3M2019.12 588.2V643.6M2024.50 618.2V635.2M2029.89 621.8V641.4M2035.27 619.1V640.5M2040.66 608.4V631.1M2046.05 595.0V613.8M2051.43 587.3V607.5M2056.82 589.6V604.5M2062.20 570.4V591.8M2067.59 579.3V597.7M2072.98 532.5V592.9M2078.36 523.2V543.8M2083.75 528.0V551.8M2089.13 520.0V549.5M2094.52 518.2V535.7M2099.90 523.2V535.7M2105.29 514.3V529.8M2110.68 517.3V538.8M2116.06 508.0V530.7M2121.45 497.7V518.6M2126.83 497.7V507.5M2132.22 477.5V508.8M2137.61 471.2V489.6M2142.99 466.1V481.6M2148.38 470.5V533.8M2153.76 488.4V544.6M2159.15 503.9V530.2M2164.53 500.4V531.6M2169.92 521.4V548.6M2175.31 522.7V543.6M2180.69 532.1V557.0M2186.08 512.9V543.8M2191.46 510.2V530.7M2196.85 497.3V523.6M2202.23 502.1V527.5M2207.62 515.2V535.7M2213.01 517.3V530.7M2218.39 503.0V519.5M2223.78 497.7V516.4M2229.16 483.4V501.8M2234.55 470.5V495.5M2239.94 468.2V488.8M2245.32 468.2V484.6M2250.71 450.0V478.6M2256.09 450.0V464.6M2261.48 455.2V487.0M2266.86 473.6V494.6M2272.25 462.9V490.0M2277.64 458.0V474.1M2283.02 461.1V477.7M2288.41 458.9V470.0M2293.79 465.2V481.6M2299.18 466.1V492.0M2304.56 478.9V495.5M2309.95 472.1V503.0M2315.34 493.2V510.7M2320.72 483.4V505.7M2326.11 475.0V489.6M2331.49 475.9V485.7M2336.88 466.1V484.6M2342.27 461.1V473.6M2347.65 458.9V474.8M2353.04 460.7V470.0M2358.42 458.0V466.4M2363.81 460.2V474.5M2369.19 466.1V477.1M2374.58 462.0V474.5M2379.97 461.1V473.0M2385.35 464.6V474.1" stroke="#737378" stroke-width="1.6" fill="none"/>
<path d="M29.91 1030.1h3.7V1038.4h-3.7zM35.29 1019.8h3.7V1028.6h-3.7zM40.68 1004.1h3.7V1018.8h-3.7zM51.45 1001.0h3.7V1006.3h-3.7zM83.77 996.9h3.7V1010.8h-3.7zM89.15 993.0h3.7V995.9h-3.7zM99.92 989.1h3.7V991.1h-3.7zM105.31 981.0h3.7V987.5h-3.7zM116.08 977.8h3.7V988.4h-3.7zM132.24 975.1h3.7V977.7h-3.7zM153.78 980.0h3.7V993.4h-3.7zM169.94 995.1h3.7V997.0h-3.7zM180.71 986.8h3.7V994.1h-3.7zM223.80 1020.1h3.7V1032.2h-3.7zM239.95 1014.4h3.7V1023.6h-3.7zM245.34 1011.8h3.7V1013.4h-3.7zM283.04 1153.9h3.7V1196.8h-3.7zM293.81 1170.7h3.7V1178.1h-3.7zM304.58 1171.6h3.7V1185.2h-3.7zM309.97 1166.2h3.7V1169.7h-3.7zM315.35 1126.9h3.7V1164.3h-3.7zM336.90 1113.0h3.7V1143.8h-3.7zM342.28 1101.4h3.7V1111.6h-3.7zM353.06 1101.0h3.7V1102.7h-3.7zM374.60 1117.1h3.7V1140.8h-3.7zM385.37 1105.1h3.7V1114.9h-3.7zM390.76 1099.2h3.7V1103.6h-3.7zM401.53 1096.6h3.7V1100.6h-3.7zM412.30 1076.9h3.7V1098.2h-3.7zM423.07 1076.4h3.7V1080.4h-3.7zM466.16 1086.2h3.7V1106.1h-3.7zM476.93 1079.6h3.7V1087.9h-3.7zM498.47 1084.4h3.7V1096.5h-3.7zM503.86 1071.0h3.7V1083.4h-3.7zM520.02 1062.1h3.7V1068.2h-3.7zM525.40 1058.9h3.7V1060.8h-3.7zM536.17 1024.1h3.7V1059.7h-3.7zM546.94 1023.7h3.7V1027.7h-3.7zM552.33 1016.9h3.7V1022.4h-3.7zM568.49 1016.2h3.7V1019.5h-3.7zM573.87 1012.1h3.7V1015.0h-3.7zM579.26 985.9h3.7V1010.8h-3.7zM606.19 1022.8h3.7V1029.9h-3.7zM611.57 1007.1h3.7V1021.8h-3.7zM616.96 991.9h3.7V1006.1h-3.7zM633.12 996.0h3.7V1004.0h-3.7zM638.50 993.7h3.7V995.0h-3.7zM643.89 991.6h3.7V992.9h-3.7zM660.05 1011.2h3.7V1013.8h-3.7zM676.20 1019.8h3.7V1025.0h-3.7zM686.97 1009.8h3.7V1020.9h-3.7zM692.36 998.7h3.7V1008.8h-3.7zM703.13 994.8h3.7V1001.8h-3.7zM713.90 980.0h3.7V1002.2h-3.7zM724.68 996.0h3.7V999.0h-3.7zM730.06 992.1h3.7V995.0h-3.7zM740.83 996.0h3.7V997.2h-3.7zM746.22 992.8h3.7V995.0h-3.7zM762.38 988.9h3.7V990.9h-3.7zM773.15 1002.3h3.7V1007.2h-3.7zM789.31 1002.6h3.7V1004.9h-3.7zM794.69 1000.5h3.7V1001.8h-3.7zM827.01 995.1h3.7V1006.6h-3.7zM859.32 1012.6h3.7V1015.9h-3.7zM875.48 1009.1h3.7V1010.6h-3.7zM891.64 1012.3h3.7V1013.6h-3.7zM902.41 1006.2h3.7V1012.7h-3.7zM913.18 1003.0h3.7V1007.7h-3.7zM934.72 1006.9h3.7V1007.9h-3.7zM983.19 1003.9h3.7V1010.6h-3.7zM988.58 1000.0h3.7V1002.9h-3.7zM993.97 998.0h3.7V999.0h-3.7zM1004.74 995.0h3.7V998.1h-3.7zM1010.12 987.8h3.7V994.0h-3.7zM1015.51 957.1h3.7V986.8h-3.7zM1026.28 955.7h3.7V958.8h-3.7zM1037.05 949.1h3.7V953.8h-3.7zM1042.44 936.9h3.7V947.9h-3.7zM1053.21 952.1h3.7V954.7h-3.7zM1063.98 937.8h3.7V952.0h-3.7zM1080.14 937.8h3.7V940.9h-3.7zM1090.91 934.8h3.7V938.6h-3.7zM1101.68 943.2h3.7V947.0h-3.7zM1107.07 937.3h3.7V941.8h-3.7zM1128.61 925.0h3.7V932.7h-3.7zM1144.77 936.0h3.7V937.2h-3.7zM1155.54 940.5h3.7V943.1h-3.7zM1166.31 937.8h3.7V939.5h-3.7zM1177.08 945.9h3.7V947.9h-3.7zM1187.85 945.0h3.7V947.9h-3.7zM1198.63 939.1h3.7V944.5h-3.7zM1209.40 933.7h3.7V939.9h-3.7zM1225.55 972.1h3.7V980.0h-3.7zM1236.33 978.0h3.7V980.0h-3.7zM1241.71 974.8h3.7V977.0h-3.7zM1252.48 978.9h3.7V980.9h-3.7zM1257.87 976.2h3.7V977.9h-3.7zM1268.64 972.6h3.7V974.3h-3.7zM1279.41 967.3h3.7V974.9h-3.7zM1284.80 964.1h3.7V966.3h-3.7zM1290.18 959.2h3.7V963.1h-3.7zM1306.34 956.2h3.7V958.8h-3.7zM1322.50 970.9h3.7V972.7h-3.7zM1333.27 965.7h3.7V977.9h-3.7zM1360.20 962.5h3.7V964.1h-3.7zM1387.13 966.4h3.7V968.6h-3.7zM1392.51 963.4h3.7V965.4h-3.7zM1403.29 966.6h3.7V967.7h-3.7zM1408.67 960.1h3.7V965.9h-3.7zM1414.06 956.2h3.7V959.1h-3.7zM1419.44 950.3h3.7V954.9h-3.7zM1424.83 947.8h3.7V949.3h-3.7zM1430.22 944.6h3.7V946.8h-3.7zM1446.37 945.1h3.7V946.3h-3.7zM1462.53 944.6h3.7V947.2h-3.7zM1467.92 938.4h3.7V943.6h-3.7zM1473.30 934.2h3.7V937.4h-3.7zM1478.69 913.0h3.7V932.9h-3.7zM1484.07 909.2h3.7V912.0h-3.7zM1494.85 906.2h3.7V908.8h-3.7zM1511.00 892.8h3.7V906.5h-3.7zM1521.77 899.1h3.7V901.6h-3.7zM1527.16 896.4h3.7V898.1h-3.7zM1532.55 891.4h3.7V895.4h-3.7zM1548.70 886.0h3.7V894.9h-3.7zM1554.09 883.9h3.7V885.0h-3.7zM1559.47 855.0h3.7V882.9h-3.7zM1575.63 857.1h3.7V868.6h-3.7zM1591.79 853.0h3.7V859.3h-3.7zM1597.18 841.9h3.7V852.0h-3.7zM1618.72 834.8h3.7V846.8h-3.7zM1624.10 817.8h3.7V833.8h-3.7zM1640.26 802.1h3.7V815.4h-3.7zM1661.80 795.0h3.7V805.8h-3.7zM1683.35 816.9h3.7V826.1h-3.7zM1688.73 810.1h3.7V816.3h-3.7zM1694.12 786.0h3.7V808.8h-3.7zM1704.89 794.2h3.7V799.5h-3.7zM1710.28 790.1h3.7V792.7h-3.7zM1721.05 795.5h3.7V802.2h-3.7zM1726.43 791.9h3.7V794.0h-3.7zM1742.59 803.9h3.7V807.0h-3.7zM1758.75 799.1h3.7V810.6h-3.7zM1764.13 795.0h3.7V799.0h-3.7zM1774.91 790.1h3.7V791.8h-3.7zM1780.29 762.8h3.7V789.5h-3.7zM1785.68 742.8h3.7V761.8h-3.7zM1791.06 738.9h3.7V741.8h-3.7zM1796.45 730.0h3.7V737.9h-3.7zM1812.61 731.2h3.7V743.6h-3.7zM1823.38 732.1h3.7V736.5h-3.7zM1828.76 719.6h3.7V730.8h-3.7zM1834.15 700.0h3.7V718.6h-3.7zM1844.92 694.2h3.7V700.8h-3.7zM1850.31 690.5h3.7V692.7h-3.7zM1855.69 673.7h3.7V688.8h-3.7zM1866.47 669.1h3.7V671.8h-3.7zM1871.85 641.9h3.7V667.7h-3.7zM1877.24 634.2h3.7V640.9h-3.7zM1888.01 626.2h3.7V642.7h-3.7zM1893.39 602.6h3.7V624.9h-3.7zM1898.78 581.8h3.7V601.6h-3.7zM1904.17 574.1h3.7V580.8h-3.7zM1931.09 597.8h3.7V624.9h-3.7zM1936.48 584.8h3.7V596.8h-3.7zM1958.02 604.1h3.7V609.1h-3.7zM1979.57 635.3h3.7V653.4h-3.7zM2001.11 639.2h3.7V640.9h-3.7zM2011.88 631.8h3.7V657.9h-3.7zM2017.27 624.1h3.7V630.2h-3.7zM2033.42 630.9h3.7V632.5h-3.7zM2038.81 613.0h3.7V629.3h-3.7zM2044.20 596.4h3.7V612.0h-3.7zM2054.97 591.4h3.7V600.8h-3.7zM2060.35 584.2h3.7V590.0h-3.7zM2071.13 534.8h3.7V585.9h-3.7zM2087.28 525.3h3.7V543.6h-3.7zM2103.44 521.4h3.7V528.4h-3.7zM2114.21 518.4h3.7V523.6h-3.7zM2119.60 500.3h3.7V516.8h-3.7zM2130.37 480.0h3.7V502.5h-3.7zM2141.14 472.3h3.7V478.8h-3.7zM2157.30 514.2h3.7V517.4h-3.7zM2184.23 514.8h3.7V540.9h-3.7zM2195.00 511.2h3.7V520.9h-3.7zM2205.77 520.5h3.7V521.8h-3.7zM2216.54 507.1h3.7V518.1h-3.7zM2221.93 499.1h3.7V506.1h-3.7zM2227.31 485.1h3.7V497.7h-3.7zM2232.70 480.3h3.7V483.8h-3.7zM2238.09 470.0h3.7V479.0h-3.7zM2248.86 454.1h3.7V471.8h-3.7zM2265.01 475.5h3.7V480.8h-3.7zM2270.40 465.1h3.7V473.6h-3.7zM2318.87 485.1h3.7V503.8h-3.7zM2324.26 480.7h3.7V483.2h-3.7zM2335.03 471.0h3.7V479.7h-3.7zM2340.42 465.1h3.7V469.5h-3.7zM2367.34 468.4h3.7V473.1h-3.7zM2372.73 463.9h3.7V466.8h-3.7z" fill="#6ba583" stroke="#1d4a30" stroke-width="1.8"/>
<path d="M13.75 1027.8h3.7V1036.6h-3.7zM24.52 1036.2h3.7V1038.8h-3.7zM46.06 1004.1h3.7V1006.6h-3.7zM56.84 1001.0h3.7V1004.5h-3.7zM78.38 1007.6h3.7V1010.8h-3.7zM110.69 981.0h3.7V988.4h-3.7zM126.85 976.0h3.7V977.7h-3.7zM137.62 974.8h3.7V987.5h-3.7zM148.39 987.6h3.7V993.4h-3.7zM159.17 980.0h3.7V996.5h-3.7zM186.10 986.8h3.7V994.7h-3.7zM191.48 995.7h3.7V1005.9h-3.7zM196.87 1006.9h3.7V1022.4h-3.7zM207.64 1023.4h3.7V1025.6h-3.7zM213.02 1026.9h3.7V1031.6h-3.7zM229.18 1020.1h3.7V1023.6h-3.7zM250.73 1012.1h3.7V1018.4h-3.7zM256.11 1020.3h3.7V1048.8h-3.7zM261.50 1049.8h3.7V1052.7h-3.7zM277.65 1054.1h3.7V1196.8h-3.7zM288.43 1155.1h3.7V1178.1h-3.7zM299.20 1170.7h3.7V1185.2h-3.7zM331.51 1126.0h3.7V1143.8h-3.7zM347.67 1101.4h3.7V1102.7h-3.7zM358.44 1101.4h3.7V1116.6h-3.7zM363.83 1118.0h3.7V1122.7h-3.7zM369.21 1124.2h3.7V1140.8h-3.7zM396.14 1099.2h3.7V1100.4h-3.7zM406.91 1096.9h3.7V1098.2h-3.7zM417.69 1076.9h3.7V1080.4h-3.7zM428.46 1076.0h3.7V1077.7h-3.7zM433.84 1079.1h3.7V1094.7h-3.7zM460.77 1096.0h3.7V1106.1h-3.7zM471.54 1086.2h3.7V1087.9h-3.7zM482.31 1079.6h3.7V1083.4h-3.7zM487.70 1084.8h3.7V1096.8h-3.7zM541.56 1024.1h3.7V1027.7h-3.7zM557.72 1016.9h3.7V1018.8h-3.7zM584.64 985.9h3.7V990.9h-3.7zM590.03 991.9h3.7V998.6h-3.7zM595.42 1000.0h3.7V1025.0h-3.7zM600.80 1026.0h3.7V1029.9h-3.7zM622.35 991.9h3.7V1006.1h-3.7zM649.27 991.9h3.7V1000.0h-3.7zM654.66 1001.0h3.7V1013.8h-3.7zM670.82 1011.2h3.7V1025.0h-3.7zM681.59 1019.8h3.7V1020.9h-3.7zM697.75 998.7h3.7V1002.2h-3.7zM708.52 995.1h3.7V1002.2h-3.7zM719.29 980.0h3.7V998.6h-3.7zM735.45 992.1h3.7V996.5h-3.7zM767.76 988.9h3.7V1007.2h-3.7zM783.92 1001.9h3.7V1004.9h-3.7zM805.46 1001.9h3.7V1004.0h-3.7zM821.62 1005.5h3.7V1006.6h-3.7zM837.78 996.9h3.7V1007.0h-3.7zM848.55 1008.5h3.7V1010.2h-3.7zM853.93 1011.6h3.7V1015.9h-3.7zM880.86 1008.4h3.7V1012.7h-3.7zM907.79 1006.2h3.7V1007.9h-3.7zM918.56 1003.0h3.7V1007.7h-3.7zM940.11 1006.9h3.7V1007.9h-3.7zM950.88 1008.7h3.7V1010.0h-3.7zM956.26 1011.0h3.7V1012.2h-3.7zM1020.89 957.1h3.7V958.8h-3.7zM1047.82 936.9h3.7V954.7h-3.7zM1074.75 937.8h3.7V940.9h-3.7zM1096.30 934.8h3.7V947.0h-3.7zM1134.00 925.0h3.7V932.7h-3.7zM1139.38 933.4h3.7V936.8h-3.7zM1150.15 936.0h3.7V943.1h-3.7zM1171.70 937.8h3.7V947.9h-3.7zM1182.47 945.9h3.7V947.9h-3.7zM1204.01 939.1h3.7V940.4h-3.7zM1214.78 933.7h3.7V947.0h-3.7zM1220.17 948.0h3.7V980.0h-3.7zM1230.94 972.1h3.7V980.0h-3.7zM1247.10 974.8h3.7V980.6h-3.7zM1274.03 972.6h3.7V974.9h-3.7zM1311.73 956.2h3.7V958.8h-3.7zM1317.11 959.8h3.7V972.5h-3.7zM1327.89 970.9h3.7V977.5h-3.7zM1370.97 964.2h3.7V966.8h-3.7zM1397.90 963.4h3.7V967.7h-3.7zM1435.60 944.6h3.7V945.9h-3.7zM1451.76 945.1h3.7V947.7h-3.7zM1516.39 892.8h3.7V901.6h-3.7zM1543.32 891.9h3.7V894.9h-3.7zM1570.25 855.0h3.7V868.6h-3.7zM1581.02 857.1h3.7V858.8h-3.7zM1607.95 841.9h3.7V844.9h-3.7zM1613.33 845.9h3.7V846.8h-3.7zM1651.03 802.1h3.7V804.9h-3.7zM1667.19 795.0h3.7V800.8h-3.7zM1672.58 801.8h3.7V825.8h-3.7zM1699.51 786.0h3.7V799.5h-3.7zM1715.66 790.1h3.7V802.2h-3.7zM1731.82 791.9h3.7V793.6h-3.7zM1737.21 795.0h3.7V807.0h-3.7zM1747.98 803.9h3.7V807.5h-3.7zM1753.36 808.9h3.7V810.6h-3.7zM1801.84 730.0h3.7V733.8h-3.7zM1807.22 735.1h3.7V743.6h-3.7zM1817.99 731.2h3.7V736.5h-3.7zM1882.62 634.2h3.7V642.7h-3.7zM1909.55 574.1h3.7V575.8h-3.7zM1914.94 576.8h3.7V590.6h-3.7zM1920.32 591.6h3.7V612.7h-3.7zM1925.71 613.7h3.7V624.9h-3.7zM1941.87 584.8h3.7V602.0h-3.7zM1947.25 603.0h3.7V607.9h-3.7zM1963.41 604.1h3.7V608.4h-3.7zM1968.80 609.8h3.7V612.7h-3.7zM1974.18 613.7h3.7V653.4h-3.7zM1984.95 635.3h3.7V641.8h-3.7zM2006.50 639.2h3.7V657.9h-3.7zM2028.04 624.1h3.7V632.4h-3.7zM2049.58 596.4h3.7V600.8h-3.7zM2065.74 584.2h3.7V585.9h-3.7zM2081.90 534.2h3.7V543.6h-3.7zM2092.67 525.3h3.7V527.9h-3.7zM2108.83 521.4h3.7V523.6h-3.7zM2124.98 500.3h3.7V502.9h-3.7zM2146.53 472.3h3.7V488.8h-3.7zM2151.91 489.8h3.7V517.4h-3.7zM2162.68 514.2h3.7V529.9h-3.7zM2168.07 531.2h3.7V533.8h-3.7zM2178.84 536.2h3.7V540.9h-3.7zM2189.61 514.8h3.7V520.9h-3.7zM2200.38 511.2h3.7V521.8h-3.7zM2243.47 470.0h3.7V471.8h-3.7zM2254.24 454.1h3.7V462.9h-3.7zM2259.63 463.9h3.7V480.8h-3.7zM2275.79 465.1h3.7V469.5h-3.7zM2291.94 469.2h3.7V471.6h-3.7zM2297.33 472.6h3.7V488.6h-3.7zM2308.10 488.0h3.7V499.0h-3.7zM2313.49 500.3h3.7V503.8h-3.7zM2356.57 463.9h3.7V465.0h-3.7zM2361.96 463.9h3.7V472.7h-3.7zM2378.12 463.9h3.7V467.7h-3.7zM2383.50 468.7h3.7V471.3h-3.7z" fill="#dc5643" stroke="#52130e" stroke-width="1.8"/>
<path d="M18.24 1035.5h5.5v2.3h-5.5zM66.71 1004.1h5.5v2.3h-5.5zM72.09 1005.2h5.5v2.3h-5.5zM120.57 975.3h5.5v2.3h-5.5zM163.65 995.3h5.5v2.3h-5.5zM201.35 1021.7h5.5v2.3h-5.5zM217.51 1031.5h5.5v2.3h-5.5zM233.67 1023.0h5.5v2.3h-5.5zM265.98 1052.4h5.5v2.3h-5.5zM325.23 1124.0h5.5v2.3h-5.5zM379.08 1114.6h5.5v2.3h-5.5zM438.33 1093.5h5.5v2.3h-5.5zM443.71 1093.5h5.5v2.3h-5.5zM454.49 1094.7h5.5v2.3h-5.5zM492.19 1095.8h5.5v2.3h-5.5zM508.34 1068.5h5.5v2.3h-5.5zM664.53 1009.6h5.5v2.3h-5.5zM750.70 990.5h5.5v2.3h-5.5zM777.63 1000.6h5.5v2.3h-5.5zM799.18 999.4h5.5v2.3h-5.5zM809.95 1004.2h5.5v2.3h-5.5zM815.33 1004.2h5.5v2.3h-5.5zM831.49 994.4h5.5v2.3h-5.5zM842.26 1006.5h5.5v2.3h-5.5zM863.81 1010.5h5.5v2.3h-5.5zM896.12 1011.2h5.5v2.3h-5.5zM923.05 1006.7h5.5v2.3h-5.5zM928.44 1006.9h5.5v2.3h-5.5zM944.59 1007.1h5.5v2.3h-5.5zM960.75 1010.7h5.5v2.3h-5.5zM971.52 1008.5h5.5v2.3h-5.5zM976.91 1009.4h5.5v2.3h-5.5zM1057.70 951.1h5.5v2.3h-5.5zM1068.47 936.2h5.5v2.3h-5.5zM1084.62 937.1h5.5v2.3h-5.5zM1116.94 935.3h5.5v2.3h-5.5zM1122.32 933.5h5.5v2.3h-5.5zM1262.36 973.7h5.5v2.3h-5.5zM1294.67 957.1h5.5v2.3h-5.5zM1300.06 957.6h5.5v2.3h-5.5zM1343.14 964.0h5.5v2.3h-5.5zM1348.53 963.5h5.5v2.3h-5.5zM1364.69 961.5h5.5v2.3h-5.5zM1375.46 967.1h5.5v2.3h-5.5zM1380.84 967.6h5.5v2.3h-5.5zM1440.09 945.3h5.5v2.3h-5.5zM1456.24 946.5h5.5v2.3h-5.5zM1488.56 907.6h5.5v2.3h-5.5zM1504.72 905.8h5.5v2.3h-5.5zM1537.03 889.7h5.5v2.3h-5.5zM1585.50 858.7h5.5v2.3h-5.5zM1601.66 840.3h5.5v2.3h-5.5zM1633.98 814.9h5.5v2.3h-5.5zM1655.52 804.6h5.5v2.3h-5.5zM1768.62 792.1h5.5v2.3h-5.5zM1860.18 671.5h5.5v2.3h-5.5zM1989.44 640.3h5.5v2.3h-5.5zM1994.82 639.7h5.5v2.3h-5.5zM2021.75 622.1h5.5v2.3h-5.5zM2075.61 532.6h5.5v2.3h-5.5zM2134.86 478.3h5.5v2.3h-5.5zM2172.56 533.7h5.5v2.3h-5.5zM2280.27 467.1h5.5v2.3h-5.5zM2285.66 467.1h5.5v2.3h-5.5zM2301.81 486.7h5.5v2.3h-5.5zM2328.74 478.7h5.5v2.3h-5.5zM2344.90 463.1h5.5v2.3h-5.5zM2350.29 463.5h5.5v2.3h-5.5z" fill="#225437"/>
<path d="M61.32 1003.5h5.5v2.3h-5.5zM93.64 990.9h5.5v2.3h-5.5zM142.11 986.9h5.5v2.3h-5.5zM174.42 993.9h5.5v2.3h-5.5zM271.37 1052.4h5.5v2.3h-5.5zM319.84 1124.9h5.5v2.3h-5.5zM449.10 1094.4h5.5v2.3h-5.5zM513.73 1067.6h5.5v2.3h-5.5zM529.89 1058.1h5.5v2.3h-5.5zM562.20 1018.5h5.5v2.3h-5.5zM626.83 1004.6h5.5v2.3h-5.5zM756.09 990.3h5.5v2.3h-5.5zM869.19 1009.9h5.5v2.3h-5.5zM885.35 1012.6h5.5v2.3h-5.5zM966.14 1009.4h5.5v2.3h-5.5zM998.45 996.7h5.5v2.3h-5.5zM1030.77 953.5h5.5v2.3h-5.5zM1111.55 935.6h5.5v2.3h-5.5zM1160.03 938.9h5.5v2.3h-5.5zM1192.34 943.3h5.5v2.3h-5.5zM1337.76 964.0h5.5v2.3h-5.5zM1353.91 963.3h5.5v2.3h-5.5zM1499.33 905.5h5.5v2.3h-5.5zM1563.96 853.3h5.5v2.3h-5.5zM1628.59 815.8h5.5v2.3h-5.5zM1644.75 800.5h5.5v2.3h-5.5zM1677.06 825.5h5.5v2.3h-5.5zM1838.64 699.2h5.5v2.3h-5.5zM1951.74 607.8h5.5v2.3h-5.5zM2097.15 527.4h5.5v2.3h-5.5zM2210.26 517.6h5.5v2.3h-5.5z" fill="#5b1a13"/>
<path d="M14.05 1403.0h3.1V1430.0h-3.1zM24.82 1420.0h3.1V1430.0h-3.1zM46.36 1403.0h3.1V1430.0h-3.1zM57.14 1408.0h3.1V1430.0h-3.1zM67.91 1413.0h3.1V1430.0h-3.1zM73.29 1403.0h3.1V1430.0h-3.1zM78.68 1411.1h3.1V1430.0h-3.1zM110.99 1400.0h3.1V1430.0h-3.1zM127.15 1392.3h3.1V1430.0h-3.1zM137.92 1402.1h3.1V1430.0h-3.1zM148.69 1407.1h3.1V1430.0h-3.1zM159.47 1393.2h3.1V1430.0h-3.1zM175.62 1421.1h3.1V1430.0h-3.1zM186.40 1405.0h3.1V1430.0h-3.1zM191.78 1408.0h3.1V1430.0h-3.1zM197.17 1383.0h3.1V1430.0h-3.1zM207.94 1400.0h3.1V1430.0h-3.1zM213.32 1417.0h3.1V1430.0h-3.1zM218.71 1413.0h3.1V1430.0h-3.1zM229.48 1408.9h3.1V1430.0h-3.1zM251.03 1415.2h3.1V1430.0h-3.1zM256.41 1393.2h3.1V1430.0h-3.1zM261.80 1375.0h3.1V1430.0h-3.1zM267.18 1392.3h3.1V1430.0h-3.1zM277.95 1190.0h3.1V1430.0h-3.1zM288.73 1360.2h3.1V1430.0h-3.1zM299.50 1261.1h3.1V1430.0h-3.1zM326.43 1379.1h3.1V1430.0h-3.1zM331.81 1370.2h3.1V1430.0h-3.1zM347.97 1363.0h3.1V1430.0h-3.1zM358.74 1385.2h3.1V1430.0h-3.1zM364.13 1386.2h3.1V1430.0h-3.1zM369.51 1394.1h3.1V1430.0h-3.1zM396.44 1397.3h3.1V1430.0h-3.1zM407.21 1408.9h3.1V1430.0h-3.1zM417.99 1381.2h3.1V1430.0h-3.1zM428.76 1402.1h3.1V1430.0h-3.1zM434.14 1387.1h3.1V1430.0h-3.1zM450.30 1382.1h3.1V1430.0h-3.1zM461.07 1397.0h3.1V1430.0h-3.1zM471.84 1400.0h3.1V1430.0h-3.1zM482.61 1410.2h3.1V1430.0h-3.1zM488.00 1390.2h3.1V1430.0h-3.1zM531.09 1405.0h3.1V1430.0h-3.1zM541.86 1335.2h3.1V1430.0h-3.1zM558.02 1392.3h3.1V1430.0h-3.1zM563.40 1390.2h3.1V1430.0h-3.1zM584.94 1373.2h3.1V1430.0h-3.1zM590.33 1391.1h3.1V1430.0h-3.1zM595.72 1322.3h3.1V1430.0h-3.1zM601.10 1345.2h3.1V1430.0h-3.1zM622.65 1376.2h3.1V1430.0h-3.1zM649.57 1393.2h3.1V1430.0h-3.1zM654.96 1370.2h3.1V1430.0h-3.1zM671.12 1401.2h3.1V1430.0h-3.1zM681.89 1404.1h3.1V1430.0h-3.1zM698.05 1406.2h3.1V1430.0h-3.1zM708.82 1411.1h3.1V1430.0h-3.1zM719.59 1358.9h3.1V1430.0h-3.1zM735.75 1402.1h3.1V1430.0h-3.1zM757.29 1406.2h3.1V1430.0h-3.1zM768.06 1372.0h3.1V1430.0h-3.1zM784.22 1418.2h3.1V1430.0h-3.1zM800.38 1408.9h3.1V1430.0h-3.1zM805.76 1415.2h3.1V1430.0h-3.1zM811.15 1412.1h3.1V1430.0h-3.1zM821.92 1422.0h3.1V1430.0h-3.1zM832.69 1411.1h3.1V1430.0h-3.1zM838.08 1400.0h3.1V1430.0h-3.1zM843.46 1400.0h3.1V1430.0h-3.1zM848.85 1406.2h3.1V1430.0h-3.1zM854.23 1410.2h3.1V1430.0h-3.1zM870.39 1413.9h3.1V1430.0h-3.1zM881.16 1406.2h3.1V1430.0h-3.1zM886.55 1412.1h3.1V1430.0h-3.1zM897.32 1418.2h3.1V1430.0h-3.1zM908.09 1415.2h3.1V1430.0h-3.1zM918.86 1410.2h3.1V1430.0h-3.1zM929.64 1421.1h3.1V1430.0h-3.1zM940.41 1410.2h3.1V1430.0h-3.1zM951.18 1413.0h3.1V1430.0h-3.1zM956.57 1410.2h3.1V1430.0h-3.1zM978.11 1416.1h3.1V1430.0h-3.1zM999.65 1408.0h3.1V1430.0h-3.1zM1021.19 1374.1h3.1V1430.0h-3.1zM1048.12 1369.1h3.1V1430.0h-3.1zM1058.90 1403.0h3.1V1430.0h-3.1zM1075.05 1379.1h3.1V1430.0h-3.1zM1085.82 1412.1h3.1V1430.0h-3.1zM1096.60 1385.2h3.1V1430.0h-3.1zM1112.75 1399.1h3.1V1430.0h-3.1zM1134.30 1389.3h3.1V1430.0h-3.1zM1139.68 1393.2h3.1V1430.0h-3.1zM1150.45 1397.3h3.1V1430.0h-3.1zM1161.23 1417.0h3.1V1430.0h-3.1zM1172.00 1398.2h3.1V1430.0h-3.1zM1182.77 1400.0h3.1V1430.0h-3.1zM1193.54 1417.0h3.1V1430.0h-3.1zM1204.31 1408.9h3.1V1430.0h-3.1zM1215.08 1387.1h3.1V1430.0h-3.1zM1220.47 1365.2h3.1V1430.0h-3.1zM1231.24 1381.2h3.1V1430.0h-3.1zM1247.40 1395.2h3.1V1430.0h-3.1zM1274.33 1406.2h3.1V1430.0h-3.1zM1295.87 1410.2h3.1V1430.0h-3.1zM1301.26 1410.2h3.1V1430.0h-3.1zM1312.03 1416.1h3.1V1430.0h-3.1zM1317.41 1397.3h3.1V1430.0h-3.1zM1328.19 1408.9h3.1V1430.0h-3.1zM1338.96 1408.0h3.1V1430.0h-3.1zM1355.11 1410.2h3.1V1430.0h-3.1zM1365.89 1415.2h3.1V1430.0h-3.1zM1371.27 1401.2h3.1V1430.0h-3.1zM1376.66 1407.1h3.1V1430.0h-3.1zM1382.04 1421.1h3.1V1430.0h-3.1zM1398.20 1412.1h3.1V1430.0h-3.1zM1435.90 1410.2h3.1V1430.0h-3.1zM1441.29 1413.0h3.1V1430.0h-3.1zM1452.06 1408.0h3.1V1430.0h-3.1zM1489.76 1406.2h3.1V1430.0h-3.1zM1500.53 1408.9h3.1V1430.0h-3.1zM1516.69 1384.3h3.1V1430.0h-3.1zM1538.23 1415.2h3.1V1430.0h-3.1zM1543.62 1403.0h3.1V1430.0h-3.1zM1565.16 1376.2h3.1V1430.0h-3.1zM1570.55 1379.1h3.1V1430.0h-3.1zM1581.32 1382.1h3.1V1430.0h-3.1zM1586.70 1400.0h3.1V1430.0h-3.1zM1608.25 1408.9h3.1V1430.0h-3.1zM1613.63 1415.2h3.1V1430.0h-3.1zM1651.33 1396.1h3.1V1430.0h-3.1zM1656.72 1391.1h3.1V1430.0h-3.1zM1667.49 1385.2h3.1V1430.0h-3.1zM1672.88 1327.1h3.1V1430.0h-3.1zM1678.26 1379.1h3.1V1430.0h-3.1zM1699.81 1365.2h3.1V1430.0h-3.1zM1715.96 1394.1h3.1V1430.0h-3.1zM1732.12 1408.9h3.1V1430.0h-3.1zM1737.51 1396.1h3.1V1430.0h-3.1zM1748.28 1397.0h3.1V1430.0h-3.1zM1753.66 1393.2h3.1V1430.0h-3.1zM1802.14 1397.0h3.1V1430.0h-3.1zM1807.52 1374.1h3.1V1430.0h-3.1zM1818.29 1379.1h3.1V1430.0h-3.1zM1839.84 1358.0h3.1V1430.0h-3.1zM1882.92 1332.1h3.1V1430.0h-3.1zM1909.85 1371.1h3.1V1430.0h-3.1zM1915.24 1337.1h3.1V1430.0h-3.1zM1920.62 1215.2h3.1V1430.0h-3.1zM1926.01 1328.2h3.1V1430.0h-3.1zM1942.17 1352.1h3.1V1430.0h-3.1zM1947.55 1385.2h3.1V1430.0h-3.1zM1952.94 1388.0h3.1V1430.0h-3.1zM1963.71 1389.3h3.1V1430.0h-3.1zM1969.10 1375.0h3.1V1430.0h-3.1zM1974.48 1323.2h3.1V1430.0h-3.1zM1985.25 1394.1h3.1V1430.0h-3.1zM1996.02 1380.0h3.1V1430.0h-3.1zM2006.80 1332.1h3.1V1430.0h-3.1zM2028.34 1394.1h3.1V1430.0h-3.1zM2049.88 1362.1h3.1V1430.0h-3.1zM2066.04 1386.2h3.1V1430.0h-3.1zM2082.20 1374.1h3.1V1430.0h-3.1zM2092.97 1379.1h3.1V1430.0h-3.1zM2098.35 1403.0h3.1V1430.0h-3.1zM2109.13 1388.0h3.1V1430.0h-3.1zM2125.28 1395.2h3.1V1430.0h-3.1zM2136.06 1382.1h3.1V1430.0h-3.1zM2146.83 1325.0h3.1V1430.0h-3.1zM2152.21 1278.0h3.1V1430.0h-3.1zM2162.98 1370.2h3.1V1430.0h-3.1zM2168.37 1353.0h3.1V1430.0h-3.1zM2173.76 1394.1h3.1V1430.0h-3.1zM2179.14 1381.2h3.1V1430.0h-3.1zM2189.91 1392.3h3.1V1430.0h-3.1zM2200.68 1379.1h3.1V1430.0h-3.1zM2243.77 1383.0h3.1V1430.0h-3.1zM2254.54 1400.0h3.1V1430.0h-3.1zM2259.93 1362.1h3.1V1430.0h-3.1zM2276.09 1383.0h3.1V1430.0h-3.1zM2292.24 1403.0h3.1V1430.0h-3.1zM2297.63 1387.1h3.1V1430.0h-3.1zM2308.40 1379.1h3.1V1430.0h-3.1zM2313.79 1366.1h3.1V1430.0h-3.1zM2329.94 1408.9h3.1V1430.0h-3.1zM2351.49 1405.0h3.1V1430.0h-3.1zM2362.26 1411.1h3.1V1430.0h-3.1zM2378.42 1407.1h3.1V1430.0h-3.1zM2383.80 1418.2h3.1V1430.0h-3.1z" fill="rgba(239,83,80,0.5)"/>
<path d="M19.44 1410.2h3.1V1430.0h-3.1zM30.21 1417.0h3.1V1430.0h-3.1zM35.59 1408.0h3.1V1430.0h-3.1zM40.98 1391.1h3.1V1430.0h-3.1zM51.75 1401.2h3.1V1430.0h-3.1zM62.52 1419.1h3.1V1430.0h-3.1zM84.07 1400.0h3.1V1430.0h-3.1zM89.45 1402.1h3.1V1430.0h-3.1zM94.84 1410.2h3.1V1430.0h-3.1zM100.22 1411.1h3.1V1430.0h-3.1zM105.61 1408.0h3.1V1430.0h-3.1zM116.38 1393.2h3.1V1430.0h-3.1zM121.77 1399.1h3.1V1430.0h-3.1zM132.54 1411.1h3.1V1430.0h-3.1zM143.31 1408.0h3.1V1430.0h-3.1zM154.08 1404.1h3.1V1430.0h-3.1zM164.85 1402.1h3.1V1430.0h-3.1zM170.24 1413.0h3.1V1430.0h-3.1zM181.01 1416.1h3.1V1430.0h-3.1zM202.55 1397.3h3.1V1430.0h-3.1zM224.10 1407.1h3.1V1430.0h-3.1zM234.87 1416.1h3.1V1430.0h-3.1zM240.25 1407.1h3.1V1430.0h-3.1zM245.64 1415.2h3.1V1430.0h-3.1zM272.57 1400.0h3.1V1430.0h-3.1zM283.34 1155.0h3.1V1430.0h-3.1zM294.11 1337.1h3.1V1430.0h-3.1zM304.88 1336.1h3.1V1430.0h-3.1zM310.27 1350.0h3.1V1430.0h-3.1zM315.65 1314.3h3.1V1430.0h-3.1zM321.04 1318.2h3.1V1430.0h-3.1zM337.20 1340.2h3.1V1430.0h-3.1zM342.58 1343.2h3.1V1430.0h-3.1zM353.36 1392.3h3.1V1430.0h-3.1zM374.90 1379.1h3.1V1430.0h-3.1zM380.28 1403.0h3.1V1430.0h-3.1zM385.67 1391.1h3.1V1430.0h-3.1zM391.06 1368.2h3.1V1430.0h-3.1zM401.83 1407.1h3.1V1430.0h-3.1zM412.60 1370.2h3.1V1430.0h-3.1zM423.37 1396.1h3.1V1430.0h-3.1zM439.53 1411.1h3.1V1430.0h-3.1zM444.91 1401.2h3.1V1430.0h-3.1zM455.69 1401.2h3.1V1430.0h-3.1zM466.46 1369.1h3.1V1430.0h-3.1zM477.23 1404.1h3.1V1430.0h-3.1zM493.39 1398.2h3.1V1430.0h-3.1zM498.77 1401.2h3.1V1430.0h-3.1zM504.16 1381.2h3.1V1430.0h-3.1zM509.54 1399.1h3.1V1430.0h-3.1zM514.93 1413.0h3.1V1430.0h-3.1zM520.32 1408.9h3.1V1430.0h-3.1zM525.70 1396.1h3.1V1430.0h-3.1zM536.47 1327.1h3.1V1430.0h-3.1zM547.24 1383.0h3.1V1430.0h-3.1zM552.63 1406.2h3.1V1430.0h-3.1zM568.79 1394.1h3.1V1430.0h-3.1zM574.17 1370.2h3.1V1430.0h-3.1zM579.56 1346.1h3.1V1430.0h-3.1zM606.49 1386.2h3.1V1430.0h-3.1zM611.87 1384.3h3.1V1430.0h-3.1zM617.26 1368.2h3.1V1430.0h-3.1zM628.03 1406.2h3.1V1430.0h-3.1zM633.42 1400.0h3.1V1430.0h-3.1zM638.80 1391.1h3.1V1430.0h-3.1zM644.19 1396.1h3.1V1430.0h-3.1zM660.35 1399.1h3.1V1430.0h-3.1zM665.73 1413.9h3.1V1430.0h-3.1zM676.50 1402.1h3.1V1430.0h-3.1zM687.27 1405.0h3.1V1430.0h-3.1zM692.66 1398.2h3.1V1430.0h-3.1zM703.43 1406.2h3.1V1430.0h-3.1zM714.20 1383.0h3.1V1430.0h-3.1zM724.98 1404.1h3.1V1430.0h-3.1zM730.36 1402.1h3.1V1430.0h-3.1zM741.13 1413.9h3.1V1430.0h-3.1zM746.52 1404.1h3.1V1430.0h-3.1zM751.90 1410.2h3.1V1430.0h-3.1zM762.68 1401.2h3.1V1430.0h-3.1zM773.45 1405.0h3.1V1430.0h-3.1zM778.83 1418.2h3.1V1430.0h-3.1zM789.61 1389.3h3.1V1430.0h-3.1zM794.99 1406.2h3.1V1430.0h-3.1zM816.53 1413.9h3.1V1430.0h-3.1zM827.31 1403.0h3.1V1430.0h-3.1zM859.62 1416.1h3.1V1430.0h-3.1zM865.01 1410.2h3.1V1430.0h-3.1zM875.78 1412.1h3.1V1430.0h-3.1zM891.94 1417.0h3.1V1430.0h-3.1zM902.71 1407.1h3.1V1430.0h-3.1zM913.48 1407.1h3.1V1430.0h-3.1zM924.25 1413.9h3.1V1430.0h-3.1zM935.02 1417.0h3.1V1430.0h-3.1zM945.79 1412.1h3.1V1430.0h-3.1zM961.95 1415.2h3.1V1430.0h-3.1zM967.34 1419.1h3.1V1430.0h-3.1zM972.72 1421.1h3.1V1430.0h-3.1zM983.49 1408.0h3.1V1430.0h-3.1zM988.88 1406.2h3.1V1430.0h-3.1zM994.27 1401.2h3.1V1430.0h-3.1zM1005.04 1413.0h3.1V1430.0h-3.1zM1010.42 1404.1h3.1V1430.0h-3.1zM1015.81 1341.1h3.1V1430.0h-3.1zM1026.58 1388.9h3.1V1430.0h-3.1zM1031.97 1402.1h3.1V1430.0h-3.1zM1037.35 1395.2h3.1V1430.0h-3.1zM1042.74 1390.2h3.1V1430.0h-3.1zM1053.51 1399.1h3.1V1430.0h-3.1zM1064.28 1393.2h3.1V1430.0h-3.1zM1069.67 1390.2h3.1V1430.0h-3.1zM1080.44 1413.0h3.1V1430.0h-3.1zM1091.21 1382.1h3.1V1430.0h-3.1zM1101.98 1401.2h3.1V1430.0h-3.1zM1107.37 1396.1h3.1V1430.0h-3.1zM1118.14 1402.1h3.1V1430.0h-3.1zM1123.52 1408.9h3.1V1430.0h-3.1zM1128.91 1378.0h3.1V1430.0h-3.1zM1145.07 1410.2h3.1V1430.0h-3.1zM1155.84 1411.1h3.1V1430.0h-3.1zM1166.61 1413.0h3.1V1430.0h-3.1zM1177.38 1408.9h3.1V1430.0h-3.1zM1188.15 1406.2h3.1V1430.0h-3.1zM1198.93 1416.1h3.1V1430.0h-3.1zM1209.70 1395.2h3.1V1430.0h-3.1zM1225.85 1379.1h3.1V1430.0h-3.1zM1236.63 1408.0h3.1V1430.0h-3.1zM1242.01 1403.0h3.1V1430.0h-3.1zM1252.78 1408.0h3.1V1430.0h-3.1zM1258.17 1405.0h3.1V1430.0h-3.1zM1263.56 1413.0h3.1V1430.0h-3.1zM1268.94 1413.9h3.1V1430.0h-3.1zM1279.71 1400.0h3.1V1430.0h-3.1zM1285.10 1402.1h3.1V1430.0h-3.1zM1290.48 1405.0h3.1V1430.0h-3.1zM1306.64 1416.1h3.1V1430.0h-3.1zM1322.80 1412.1h3.1V1430.0h-3.1zM1333.57 1408.0h3.1V1430.0h-3.1zM1344.34 1420.0h3.1V1430.0h-3.1zM1349.73 1420.0h3.1V1430.0h-3.1zM1360.50 1411.1h3.1V1430.0h-3.1zM1387.43 1421.1h3.1V1430.0h-3.1zM1392.81 1415.2h3.1V1430.0h-3.1zM1403.59 1415.2h3.1V1430.0h-3.1zM1408.97 1404.1h3.1V1430.0h-3.1zM1414.36 1407.1h3.1V1430.0h-3.1zM1419.74 1408.9h3.1V1430.0h-3.1zM1425.13 1417.0h3.1V1430.0h-3.1zM1430.52 1405.0h3.1V1430.0h-3.1zM1446.67 1410.2h3.1V1430.0h-3.1zM1457.44 1421.1h3.1V1430.0h-3.1zM1462.83 1419.1h3.1V1430.0h-3.1zM1468.22 1407.1h3.1V1430.0h-3.1zM1473.60 1399.1h3.1V1430.0h-3.1zM1478.99 1361.1h3.1V1430.0h-3.1zM1484.37 1386.2h3.1V1430.0h-3.1zM1495.14 1412.1h3.1V1430.0h-3.1zM1505.92 1402.1h3.1V1430.0h-3.1zM1511.30 1392.3h3.1V1430.0h-3.1zM1522.07 1395.2h3.1V1430.0h-3.1zM1527.46 1395.2h3.1V1430.0h-3.1zM1532.85 1403.0h3.1V1430.0h-3.1zM1549.00 1399.1h3.1V1430.0h-3.1zM1554.39 1393.2h3.1V1430.0h-3.1zM1559.77 1362.1h3.1V1430.0h-3.1zM1575.93 1403.0h3.1V1430.0h-3.1zM1592.09 1396.1h3.1V1430.0h-3.1zM1597.48 1382.1h3.1V1430.0h-3.1zM1602.86 1398.2h3.1V1430.0h-3.1zM1619.02 1399.1h3.1V1430.0h-3.1zM1624.40 1375.0h3.1V1430.0h-3.1zM1629.79 1361.1h3.1V1430.0h-3.1zM1635.18 1392.3h3.1V1430.0h-3.1zM1640.56 1391.1h3.1V1430.0h-3.1zM1645.95 1400.0h3.1V1430.0h-3.1zM1662.10 1373.2h3.1V1430.0h-3.1zM1683.65 1401.2h3.1V1430.0h-3.1zM1689.03 1408.9h3.1V1430.0h-3.1zM1694.42 1371.1h3.1V1430.0h-3.1zM1705.19 1394.1h3.1V1430.0h-3.1zM1710.58 1398.2h3.1V1430.0h-3.1zM1721.35 1413.0h3.1V1430.0h-3.1zM1726.73 1413.9h3.1V1430.0h-3.1zM1742.89 1385.2h3.1V1430.0h-3.1zM1759.05 1410.2h3.1V1430.0h-3.1zM1764.43 1406.2h3.1V1430.0h-3.1zM1769.82 1408.9h3.1V1430.0h-3.1zM1775.21 1396.1h3.1V1430.0h-3.1zM1780.59 1358.9h3.1V1430.0h-3.1zM1785.98 1316.1h3.1V1430.0h-3.1zM1791.36 1376.2h3.1V1430.0h-3.1zM1796.75 1385.2h3.1V1430.0h-3.1zM1812.91 1389.3h3.1V1430.0h-3.1zM1823.68 1394.1h3.1V1430.0h-3.1zM1829.06 1395.2h3.1V1430.0h-3.1zM1834.45 1376.2h3.1V1430.0h-3.1zM1845.22 1384.3h3.1V1430.0h-3.1zM1850.61 1385.2h3.1V1430.0h-3.1zM1855.99 1369.1h3.1V1430.0h-3.1zM1861.38 1368.2h3.1V1430.0h-3.1zM1866.77 1382.1h3.1V1430.0h-3.1zM1872.15 1331.2h3.1V1430.0h-3.1zM1877.54 1351.2h3.1V1430.0h-3.1zM1888.31 1340.2h3.1V1430.0h-3.1zM1893.69 1333.0h3.1V1430.0h-3.1zM1899.08 1323.2h3.1V1430.0h-3.1zM1904.47 1327.1h3.1V1430.0h-3.1zM1931.39 1346.1h3.1V1430.0h-3.1zM1936.78 1362.1h3.1V1430.0h-3.1zM1958.32 1393.2h3.1V1430.0h-3.1zM1979.87 1328.2h3.1V1430.0h-3.1zM1990.64 1400.0h3.1V1430.0h-3.1zM2001.41 1379.1h3.1V1430.0h-3.1zM2012.18 1353.0h3.1V1430.0h-3.1zM2017.57 1277.1h3.1V1430.0h-3.1zM2022.95 1384.3h3.1V1430.0h-3.1zM2033.72 1382.1h3.1V1430.0h-3.1zM2039.11 1386.2h3.1V1430.0h-3.1zM2044.50 1378.0h3.1V1430.0h-3.1zM2055.27 1391.1h3.1V1430.0h-3.1zM2060.65 1372.0h3.1V1430.0h-3.1zM2071.43 1328.2h3.1V1430.0h-3.1zM2076.81 1352.1h3.1V1430.0h-3.1zM2087.58 1373.2h3.1V1430.0h-3.1zM2103.74 1396.1h3.1V1430.0h-3.1zM2114.51 1380.0h3.1V1430.0h-3.1zM2119.90 1375.0h3.1V1430.0h-3.1zM2130.67 1370.2h3.1V1430.0h-3.1zM2141.44 1400.0h3.1V1430.0h-3.1zM2157.60 1363.9h3.1V1430.0h-3.1zM2184.53 1376.2h3.1V1430.0h-3.1zM2195.30 1384.3h3.1V1430.0h-3.1zM2206.07 1375.0h3.1V1430.0h-3.1zM2211.46 1403.0h3.1V1430.0h-3.1zM2216.84 1399.1h3.1V1430.0h-3.1zM2222.23 1389.3h3.1V1430.0h-3.1zM2227.61 1384.3h3.1V1430.0h-3.1zM2233.00 1369.1h3.1V1430.0h-3.1zM2238.39 1377.1h3.1V1430.0h-3.1zM2249.16 1382.1h3.1V1430.0h-3.1zM2265.31 1377.1h3.1V1430.0h-3.1zM2270.70 1381.2h3.1V1430.0h-3.1zM2281.47 1394.1h3.1V1430.0h-3.1zM2286.86 1408.0h3.1V1430.0h-3.1zM2303.01 1388.0h3.1V1430.0h-3.1zM2319.17 1391.1h3.1V1430.0h-3.1zM2324.56 1404.1h3.1V1430.0h-3.1zM2335.33 1391.1h3.1V1430.0h-3.1zM2340.72 1397.0h3.1V1430.0h-3.1zM2346.10 1392.3h3.1V1430.0h-3.1zM2356.87 1405.0h3.1V1430.0h-3.1zM2367.64 1415.2h3.1V1430.0h-3.1zM2373.03 1408.9h3.1V1430.0h-3.1z" fill="rgba(38,166,154,0.5)"/>
<path d="M14 471.2H2554" stroke="#d75442" stroke-width="2" stroke-dasharray="2 4" fill="none"/>
</g>
<path d="M13 87H2683V1487H13zM13 336.1H2683M13 1431H2683M2555.2 87V1487" stroke="#4a4a4c" stroke-width="2.1" fill="none"/>
<g clip-path="url(#ca)"><path d="M2556 339.0h8 M2556 413.0h8 M2556 563.0h8 M2556 621.0h8 M2556 677.0h8 M2556 747.0h8 M2556 804.0h8 M2556 876.0h8 M2556 944.0h8 M2556 1000.0h8 M2556 1069.0h8 M2556 1140.0h8 M2556 1207.0h8 M2556 1277.0h8 M2556 1339.0h8 M2556 1398.0h8" stroke="#4a4a4c" stroke-width="2" fill="none"/></g>
<path d="M2556 135h8 M2556 209h8 M2556 284h8" stroke="#4a4a4c" stroke-width="2" fill="none"/>
<path d="M64.0 1432v8 M220.0 1432v8 M387.0 1432v8 M549.0 1432v8 M716.0 1432v8 M878.0 1432v8 M1044.0 1432v8 M1211.0 1432v8 M1373.0 1432v8 M1540.0 1432v8 M1702.0 1432v8 M1869.0 1432v8 M2036.0 1432v8 M2186.0 1432v8 M2353.0 1432v8 M2515.0 1432v8" stroke="#4a4a4c" stroke-width="2.2" fill="none"/>
<text x="2573.3" y="143.9" font-family="Liberation Sans, sans-serif" font-size="22.5" fill="#555555" textLength="52.6" lengthAdjust="spacingAndGlyphs">80.00</text>
<text x="2573.3" y="217.9" font-family="Liberation Sans, sans-serif" font-size="22.5" fill="#555555" textLength="52.6" lengthAdjust="spacingAndGlyphs">60.00</text>
<text x="2573.3" y="292.9" font-family="Liberation Sans, sans-serif" font-size="22.5" fill="#555555" textLength="52.6" lengthAdjust="spacingAndGlyphs">40.00</text>
<g clip-path="url(#ca)">
<text x="2573.3" y="347.9" font-family="Liberation Sans, sans-serif" font-size="22.5" fill="#555555" textLength="87.7" lengthAdjust="spacingAndGlyphs">90000.00</text>
<text x="2573.3" y="421.9" font-family="Liberation Sans, sans-serif" font-size="22.5" fill="#555555" textLength="87.7" lengthAdjust="spacingAndGlyphs">70000.00</text>
<text x="2573.3" y="571.9" font-family="Liberation Sans, sans-serif" font-size="22.5" fill="#555555" textLength="87.7" lengthAdjust="spacingAndGlyphs">42000.00</text>
<text x="2573.3" y="629.9" font-family="Liberation Sans, sans-serif" font-size="22.5" fill="#555555" textLength="87.7" lengthAdjust="spacingAndGlyphs">34500.00</text>
<text x="2573.3" y="685.9" font-family="Liberation Sans, sans-serif" font-size="22.5" fill="#555555" textLength="87.7" lengthAdjust="spacingAndGlyphs">28500.00</text>
<text x="2573.3" y="755.9" font-family="Liberation Sans, sans-serif" font-size="22.5" fill="#555555" textLength="87.7" lengthAdjust="spacingAndGlyphs">22500.00</text>
<text x="2573.3" y="812.9" font-family="Liberation Sans, sans-serif" font-size="22.5" fill="#555555" textLength="87.7" lengthAdjust="spacingAndGlyphs">18500.00</text>
<text x="2573.3" y="884.9" font-family="Liberation Sans, sans-serif" font-size="22.5" fill="#555555" textLength="87.7" lengthAdjust="spacingAndGlyphs">14500.00</text>
<text x="2573.3" y="952.9" font-family="Liberation Sans, sans-serif" font-size="22.5" fill="#555555" textLength="87.7" lengthAdjust="spacingAndGlyphs">11500.00</text>
<text x="2573.3" y="1008.9" font-family="Liberation Sans, sans-serif" font-size="22.5" fill="#555555" textLength="76.0" lengthAdjust="spacingAndGlyphs">9500.00</text>
<text x="2573.3" y="1077.9" font-family="Liberation Sans, sans-serif" font-size="22.5" fill="#555555" textLength="76.0" lengthAdjust="spacingAndGlyphs">7500.00</text>
<text x="2573.3" y="1148.9" font-family="Liberation Sans, sans-serif" font-size="22.5" fill="#555555" textLength="76.0" lengthAdjust="spacingAndGlyphs">5900.00</text>
<text x="2573.3" y="1215.9" font-family="Liberation Sans, sans-serif" font-size="22.5" fill="#555555" textLength="76.0" lengthAdjust="spacingAndGlyphs">4700.00</text>
<text x="2573.3" y="1285.9" font-family="Liberation Sans, sans-serif" font-size="22.5" fill="#555555" textLength="76.0" lengthAdjust="spacingAndGlyphs">3700.00</text>
<text x="2573.3" y="1347.9" font-family="Liberation Sans, sans-serif" font-size="22.5" fill="#555555" textLength="76.0" lengthAdjust="spacingAndGlyphs">3000.00</text>
<text x="2573.3" y="1406.9" font-family="Liberation Sans, sans-serif" font-size="22.5" fill="#555555" textLength="76.0" lengthAdjust="spacingAndGlyphs">2450.00</text>
</g>
<rect x="2589.4" y="350.6" width="56.7" height="30.8" rx="6.5" fill="#f2e0d0" stroke="#ccd1e1" stroke-width="2"/>
<text x="2598.9" y="373.3" font-family="Liberation Sans, sans-serif" font-size="22.5" fill="#555555" textLength="37.5" lengthAdjust="spacingAndGlyphs">USD</text>
<path d="M2458 455H2552V486.8H2458a4 4 0 0 1-4-4V459a4 4 0 0 1 4-4z" fill="#d85342"/>
<path d="M2554.1 455H2669.8a4 4 0 0 1 4 4V508.8a4 4 0 0 1-4 4H2554.1z" fill="#d85342"/>
<path d="M2554.1 471.2h10" stroke="#fff" stroke-width="2"/>
<text x="2464.7" y="478.6" font-family="Liberation Sans, sans-serif" font-size="22.5" fill="#fff" textLength="75.7" lengthAdjust="spacingAndGlyphs">BTCUSD</text>
<text x="2574.7" y="478.6" font-family="Liberation Sans, sans-serif" font-size="22.5" fill="#fff" textLength="87.6" lengthAdjust="spacingAndGlyphs">57541.94</text>
<text x="2575.8" y="505" font-family="Liberation Sans, sans-serif" font-size="22.5" fill="#f9d6d1" textLength="82.3" lengthAdjust="spacingAndGlyphs">14:06:33</text>
<text x="46.7" y="1466.8" font-family="Liberation Sans, sans-serif" font-size="22.3" fill="#555555" textLength="34.6" lengthAdjust="spacingAndGlyphs">Feb</text>
<text x="202.3" y="1466.8" font-family="Liberation Sans, sans-serif" font-size="22.3" fill="#555555" textLength="35.3" lengthAdjust="spacingAndGlyphs">Mar</text>
<text x="370.4" y="1466.8" font-family="Liberation Sans, sans-serif" font-size="22.3" fill="#555555" textLength="33.3" lengthAdjust="spacingAndGlyphs">Apr</text>
<text x="530.1" y="1466.8" font-family="Liberation Sans, sans-serif" font-size="22.3" fill="#555555" textLength="37.7" lengthAdjust="spacingAndGlyphs">May</text>
<text x="698.9" y="1466.8" font-family="Liberation Sans, sans-serif" font-size="22.3" fill="#555555" textLength="34.3" lengthAdjust="spacingAndGlyphs">Jun</text>
<text x="863.9" y="1466.8" font-family="Liberation Sans, sans-serif" font-size="22.3" fill="#555555" textLength="28.2" lengthAdjust="spacingAndGlyphs">Jul</text>
<text x="1025.8" y="1466.8" font-family="Liberation Sans, sans-serif" font-size="22.3" fill="#555555" textLength="36.4" lengthAdjust="spacingAndGlyphs">Aug</text>
<text x="1193.7" y="1466.8" font-family="Liberation Sans, sans-serif" font-size="22.3" fill="#555555" textLength="34.6" lengthAdjust="spacingAndGlyphs">Sep</text>
<text x="1355.7" y="1466.8" font-family="Liberation Sans, sans-serif" font-size="22.3" fill="#555555" textLength="34.6" lengthAdjust="spacingAndGlyphs">Oct</text>
<text x="1522.0" y="1466.8" font-family="Liberation Sans, sans-serif" font-size="22.3" fill="#555555" textLength="36.1" lengthAdjust="spacingAndGlyphs">Nov</text>
<text x="1684.3" y="1466.8" font-family="Liberation Sans, sans-serif" font-size="22.3" fill="#555555" textLength="35.3" lengthAdjust="spacingAndGlyphs">Dec</text>
<text x="1868.4" y="1466.6" font-family="Liberation Sans, sans-serif" font-size="22.5" fill="#555555" font-weight="bold" text-anchor="middle" textLength="48.2" lengthAdjust="spacingAndGlyphs">2021</text>
<text x="2018.7" y="1466.8" font-family="Liberation Sans, sans-serif" font-size="22.3" fill="#555555" textLength="34.6" lengthAdjust="spacingAndGlyphs">Feb</text>
<text x="2168.3" y="1466.8" font-family="Liberation Sans, sans-serif" font-size="22.3" fill="#555555" textLength="35.3" lengthAdjust="spacingAndGlyphs">Mar</text>
<text x="2336.3" y="1466.8" font-family="Liberation Sans, sans-serif" font-size="22.3" fill="#555555" textLength="33.3" lengthAdjust="spacingAndGlyphs">Apr</text>
<text x="2496.2" y="1466.8" font-family="Liberation Sans, sans-serif" font-size="22.3" fill="#555555" textLength="37.7" lengthAdjust="spacingAndGlyphs">May</text>
<text x="31.2" y="129.4" font-family="Liberation Sans, sans-serif" font-size="25" fill="#555555" textLength="154.2" lengthAdjust="spacingAndGlyphs">RSI (14, close)</text>
<text x="30.9" y="378" font-family="Liberation Sans, sans-serif" font-size="25" fill="#555555" font-weight="bold" textLength="402.8" lengthAdjust="spacingAndGlyphs">Bitcoin / U.S. Dollar, 1D, COINBASE</text>
<text x="30.9" y="411.6" font-family="Liberation Sans, sans-serif" font-size="25" fill="#555555" textLength="34.9" lengthAdjust="spacingAndGlyphs">Vol</text>
<text x="30.9" y="445.5" font-family="Liberation Sans, sans-serif" font-size="25" fill="#555555" textLength="159.5" lengthAdjust="spacingAndGlyphs">MA (50, close)</text>
<text x="30.9" y="479.5" font-family="Liberation Sans, sans-serif" font-size="25" fill="#555555" textLength="200.6" lengthAdjust="spacingAndGlyphs">MA (200, close, 0)</text>
<text x="30.9" y="513.8" font-family="Liberation Sans, sans-serif" font-size="25" fill="#555555" textLength="200.6" lengthAdjust="spacingAndGlyphs">EMA (20, close, 0)</text>
<text x="12.6" y="33" font-family="Liberation Sans, sans-serif" font-size="25" fill="#131722" font-weight="bold" textLength="157.5" lengthAdjust="spacingAndGlyphs">bitcoinwallah</text>
<text x="178.6" y="33" font-family="Liberation Sans, sans-serif" font-size="25" fill="#131722" textLength="678.4" lengthAdjust="spacingAndGlyphs">published on TradingView.com, April 07, 2021 09:53:29 UTC</text>
<text x="12.8" y="66.7" font-family="Liberation Sans, sans-serif" font-size="25" fill="#131722" font-weight="bold" textLength="263.7" lengthAdjust="spacingAndGlyphs">COINBASE:BTCUSD, 1D</text>
<text x="288.4" y="66.7" font-family="Liberation Sans, sans-serif" font-size="25" fill="#131722" textLength="103.6" lengthAdjust="spacingAndGlyphs">57541.94</text>
<path d="M398.8 49.5H419.2L409 68.3z" fill="#ef5350"/>
<text x="427.8" y="66.7" font-family="Liberation Sans, sans-serif" font-size="25" fill="#131722" textLength="195.2" lengthAdjust="spacingAndGlyphs">−478.04 (−0.82%)</text>
<text x="631.9" y="66.7" font-family="Liberation Sans, sans-serif" font-size="25" fill="#131722" font-weight="bold" textLength="24.6" lengthAdjust="spacingAndGlyphs">O:</text>
<text x="660.5" y="66.7" font-family="Liberation Sans, sans-serif" font-size="25" fill="#ef5350" textLength="103.5" lengthAdjust="spacingAndGlyphs">58021.67</text>
<text x="774.2" y="66.7" font-family="Liberation Sans, sans-serif" font-size="25" fill="#131722" font-weight="bold" textLength="22.8" lengthAdjust="spacingAndGlyphs">H:</text>
<text x="802.2" y="66.7" font-family="Liberation Sans, sans-serif" font-size="25" fill="#ef5350" textLength="103.5" lengthAdjust="spacingAndGlyphs">58630.00</text>
<text x="915.2" y="66.7" font-family="Liberation Sans, sans-serif" font-size="25" fill="#131722" font-weight="bold" textLength="17.7" lengthAdjust="spacingAndGlyphs">L:</text>
<text x="937.0" y="66.7" font-family="Liberation Sans, sans-serif" font-size="25" fill="#ef5350" textLength="103.5" lengthAdjust="spacingAndGlyphs">57001.00</text>
<text x="1049.6" y="66.7" font-family="Liberation Sans, sans-serif" font-size="25" fill="#131722" font-weight="bold" textLength="21.5" lengthAdjust="spacingAndGlyphs">C:</text>
<text x="1074.5" y="66.7" font-family="Liberation Sans, sans-serif" font-size="25" fill="#ef5350" textLength="103.5" lengthAdjust="spacingAndGlyphs">57541.94</text>
<g fill="#2196f3"><circle cx="33.8" cy="1520.3" r="11.5"/><circle cx="20.5" cy="1530.2" r="8.8"/><circle cx="51" cy="1523.7" r="7"/><circle cx="56.5" cy="1531.5" r="7.5"/><rect x="20.5" y="1524" width="36" height="15"/></g><path d="M12.6 1535.1L31.9 1520.7L44 1531.7L58.6 1517.9" stroke="#fff" stroke-width="2.2" fill="none"/><circle cx="31.9" cy="1520.7" r="3.9" fill="#fff"/><circle cx="44" cy="1531.7" r="3.9" fill="#fff"/>
<text x="68.1" y="1531.7" font-family="Liberation Sans, sans-serif" font-size="25" fill="#131722" textLength="140.9" lengthAdjust="spacingAndGlyphs">TradingView</text>
</svg>
</body></html>
